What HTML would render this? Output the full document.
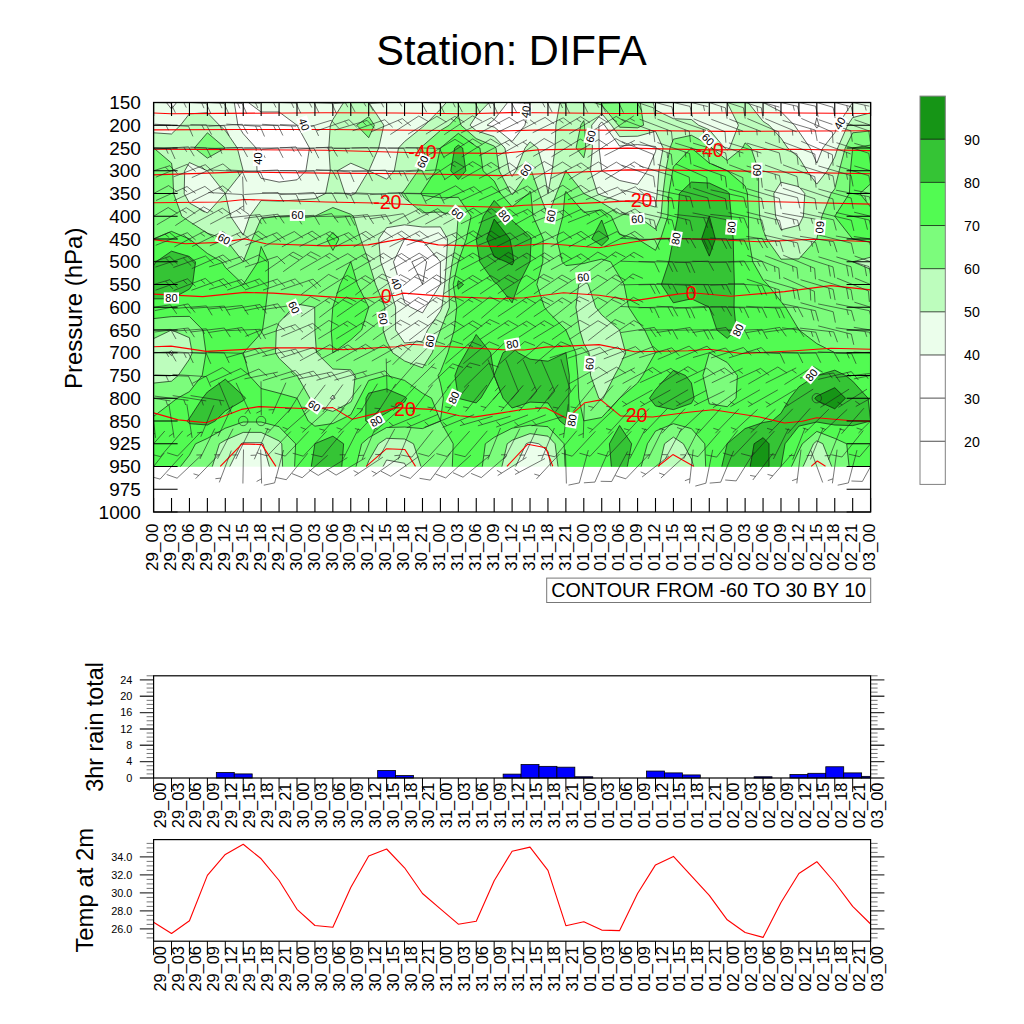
<!DOCTYPE html>
<html><head><meta charset="utf-8"><title>Station: DIFFA</title>
<style>html,body{margin:0;padding:0;background:#fff;}body{width:1024px;height:1024px;overflow:hidden;}svg{display:block;} text{font-family:"Liberation Sans", sans-serif;fill:#000;}</style>
</head><body>
<svg width="1024" height="1024" viewBox="0 0 1024 1024">
<rect x="0" y="0" width="1024" height="1024" fill="#ffffff"/>
<text x="376.2" y="64.9" font-size="42.6" textLength="270.6" lengthAdjust="spacingAndGlyphs">Station: DIFFA</text>
<g id="field">
<clipPath id="fc"><rect x="153.60" y="102.50" width="717.00" height="409.50"/></clipPath>
<g clip-path="url(#fc)">
<rect x="153.60" y="102.50" width="717.00" height="364.00" fill="#fff"/>
<path d="M153.6 102.5L166.4 102.5L171.5 109.0L176.6 102.5L189.4 102.5L207.4 102.5L225.3 102.5L234.3 102.5L237.9 125.2L243.2 133.7L256.1 148.0L257.0 170.8L261.1 178.3L279.1 182.1L297.0 179.8L305.9 170.8L309.5 148.0L297.0 125.3L297.0 125.2L279.1 112.0L261.1 112.0L248.3 102.5L261.1 102.5L279.1 102.5L297.0 102.5L314.9 102.5L332.9 102.5L350.8 102.5L368.7 102.5L386.6 102.5L404.6 102.5L422.5 102.5L440.4 102.5L458.3 102.5L476.2 102.5L494.2 102.5L507.6 102.5L494.2 119.6L487.1 125.2L494.2 127.1L512.1 141.5L524.9 125.2L529.9 102.5L530.0 102.5L548.0 102.5L565.9 102.5L583.8 102.5L601.7 102.5L619.6 102.5L637.6 102.5L655.5 102.5L673.4 102.5L691.4 102.5L709.3 102.5L727.2 102.5L745.1 102.5L763.1 102.5L763.1 102.5L781.0 111.6L794.4 125.2L798.9 131.7L810.1 148.0L816.8 163.1L822.8 148.0L834.8 132.8L837.7 125.2L852.6 102.5L852.7 102.5L870.6 102.5L870.6 125.2L870.6 148.0L870.6 170.8L870.6 193.5L870.6 216.2L870.6 239.0L870.6 261.8L870.6 284.5L870.6 307.2L870.6 330.0L870.6 352.8L870.6 375.5L870.6 398.2L870.6 421.0L870.6 443.8L870.6 466.5L852.7 466.5L834.8 466.5L816.8 466.5L798.9 466.5L781.0 466.5L763.1 466.5L745.1 466.5L727.2 466.5L709.3 466.5L691.4 466.5L673.4 466.5L655.5 466.5L637.6 466.5L619.6 466.5L601.7 466.5L583.8 466.5L565.9 466.5L548.0 466.5L530.0 466.5L512.1 466.5L494.2 466.5L476.2 466.5L458.3 466.5L440.4 466.5L422.5 466.5L404.6 466.5L386.6 466.5L368.7 466.5L350.8 466.5L332.9 466.5L314.9 466.5L297.0 466.5L279.1 466.5L261.1 466.5L243.2 466.5L225.3 466.5L207.4 466.5L189.4 466.5L171.5 466.5L153.6 466.5L153.6 443.8L153.6 421.0L153.6 398.2L153.6 375.5L153.6 352.8L153.6 330.0L153.6 307.2L153.6 284.5L153.6 261.8L153.6 239.0L153.6 216.2L153.6 193.5L153.6 170.8L153.6 148.0L153.6 125.2ZM404.6 239.0L393.5 261.8L400.1 284.5L404.6 302.6L410.6 307.2L422.5 312.9L426.0 307.2L440.4 284.5L440.4 261.8L422.5 240.6ZM601.7 121.9L598.9 125.2L599.1 148.0L601.7 170.7L601.8 170.8L619.6 180.5L637.6 184.4L647.3 170.8L655.5 151.7L656.2 148.0L655.5 146.5L637.6 144.6L619.6 146.1L604.5 125.2Z" fill="#ebfeeb" fill-rule="evenodd" stroke="#ebfeeb" stroke-width="0.4"/>
<path d="M180.5 125.2L189.4 113.8L207.4 112.8L219.4 125.2L225.3 130.5L237.3 148.0L243.2 170.7L243.2 170.8L243.2 170.8L225.3 193.5L230.5 216.2L243.2 235.2L249.6 216.3L261.1 200.5L279.1 201.1L297.0 200.0L314.9 198.7L325.6 193.5L330.3 170.8L328.8 148.0L330.3 125.2L332.9 119.5L343.6 102.5L350.8 102.5L368.7 102.5L368.8 102.5L383.8 125.2L378.7 148.0L368.8 170.8L386.6 179.2L394.3 170.8L398.5 148.0L404.6 141.5L422.5 127.1L424.7 125.2L440.4 109.3L446.3 102.5L458.3 102.5L476.2 102.5L489.1 102.5L476.2 115.9L470.0 125.2L476.2 130.7L494.2 136.6L504.9 148.0L509.1 170.8L512.1 176.4L515.9 170.8L525.1 148.0L530.0 141.8L537.7 148.0L544.1 170.8L548.0 193.4L552.1 170.8L555.1 148.0L555.9 125.2L559.9 102.5L565.9 102.5L583.8 102.5L601.7 102.5L619.6 102.5L637.6 102.5L653.0 102.5L655.5 110.0L673.4 118.7L691.4 119.5L698.6 125.2L709.3 129.8L724.7 148.0L727.2 150.1L729.7 148.0L738.4 125.2L727.2 102.6L727.2 102.5L727.2 102.5L745.1 102.5L748.1 102.5L763.1 121.4L769.1 125.2L781.0 138.2L787.7 148.0L798.9 157.5L807.0 170.8L816.8 184.1L827.3 170.8L834.8 157.1L837.7 148.0L847.7 125.2L852.7 117.6L870.6 112.8L870.6 125.2L870.6 148.0L870.6 170.8L870.6 193.5L870.6 216.2L870.6 239.0L870.6 261.8L870.6 284.5L870.6 307.2L870.6 330.0L870.6 352.8L870.6 375.5L870.6 398.2L870.6 421.0L870.6 443.8L870.6 466.5L852.7 466.5L834.8 466.5L816.8 466.5L798.9 466.5L781.0 466.5L763.1 466.5L745.1 466.5L727.2 466.5L709.3 466.5L691.4 466.5L673.4 466.5L655.5 466.5L637.6 466.5L619.6 466.5L601.7 466.5L583.8 466.5L565.9 466.5L550.8 466.5L548.0 451.4L538.9 443.8L530.0 442.1L526.1 443.8L515.7 466.5L512.1 466.5L494.2 466.5L476.2 466.5L458.3 466.5L440.4 466.5L422.5 466.5L406.0 466.5L404.6 463.3L386.6 460.0L383.1 466.5L368.7 466.5L350.8 466.5L332.9 466.5L314.9 466.5L297.0 466.5L279.1 466.5L269.4 466.5L263.1 443.8L261.1 442.7L243.2 442.7L241.0 443.8L229.8 466.5L225.3 466.5L207.4 466.5L189.4 466.5L171.5 466.5L153.6 466.5L153.6 443.8L153.6 421.0L153.6 398.2L153.6 375.5L153.6 352.8L153.6 330.0L153.6 307.2L153.6 284.5L153.6 261.8L153.6 239.0L153.6 216.2L153.6 193.5L153.6 170.8L153.6 148.0L153.6 132.8L171.5 134.0ZM189.4 162.5L184.7 170.8L184.2 193.5L189.4 203.0L207.4 213.0L225.3 193.5L207.4 170.8L207.3 170.8ZM332.9 395.0L330.3 398.3L332.9 399.4L335.1 398.2ZM350.8 163.2L337.4 170.8L344.9 193.5L350.8 195.4L355.2 193.5L368.6 170.8ZM386.6 227.7L378.7 239.0L380.7 261.8L386.6 278.0L388.9 284.5L395.6 307.2L395.6 330.0L404.6 343.0L422.5 341.3L427.6 330.0L440.4 311.0L441.9 307.2L444.7 284.5L446.4 261.8L447.6 239.0L440.4 226.9L422.5 227.0L404.6 224.8ZM601.7 113.5L591.7 125.2L592.4 148.0L590.5 170.8L597.6 193.5L601.7 195.6L619.6 201.1L637.6 202.0L655.5 207.1L657.2 193.5L658.9 170.7L663.1 148.0L655.5 131.3L637.6 136.2L619.6 136.6L611.4 125.2ZM781.0 182.2L773.8 193.5L775.6 216.2L781.0 229.8L798.9 225.3L803.4 216.2L804.8 193.5L798.9 186.7ZM171.5 350.7L168.6 352.8L171.5 355.6L173.5 352.8ZM314.9 102.5L314.9 102.5L315.0 102.5L314.9 102.5Z" fill="#bdfdbd" fill-rule="evenodd" stroke="#bdfdbd" stroke-width="0.4"/>
<path d="M356.7 125.2L368.7 116.7L374.4 125.2L368.7 137.7ZM449.3 125.2L458.3 115.5L461.0 125.2L476.2 138.6L494.2 146.1L496.0 148.0L499.2 170.8L511.1 193.5L512.1 194.7L513.6 193.5L528.7 170.8L530.0 167.9L531.3 170.8L539.4 193.5L548.0 216.2L556.5 193.5L565.9 170.8L565.9 170.7L565.9 170.8L583.8 193.4L583.8 193.5L601.7 202.7L619.6 213.7L637.6 216.2L637.6 216.2L655.5 229.2L661.0 216.2L663.0 193.5L665.8 170.8L670.0 148.0L673.4 139.2L691.4 135.3L709.3 144.9L711.9 148.0L727.2 160.4L742.5 148.0L745.1 142.9L751.1 148.0L758.6 170.8L758.6 193.5L759.7 216.3L763.1 229.8L766.7 239.0L781.0 259.2L798.9 258.9L816.8 239.0L816.8 238.9L821.9 216.3L831.1 193.5L834.8 188.9L839.2 170.8L845.2 148.0L852.7 132.8L870.6 130.9L870.6 148.0L870.6 170.8L870.6 193.5L870.6 216.2L870.6 239.0L870.6 257.2L852.8 261.8L870.6 269.3L870.6 284.5L870.6 307.2L870.6 330.0L870.6 352.8L870.6 375.5L870.6 398.2L870.6 421.0L870.6 443.8L870.6 466.5L852.7 466.5L834.8 466.5L831.7 466.5L822.8 443.7L816.8 440.9L813.5 443.8L803.1 466.5L798.9 466.5L781.0 466.5L763.1 466.5L745.1 466.5L727.2 466.5L709.3 466.5L693.7 466.5L691.4 459.0L683.4 443.8L673.4 437.1L664.5 443.8L659.1 466.5L655.5 466.5L637.6 466.5L619.6 466.5L601.7 466.5L583.8 466.5L565.9 466.5L558.0 466.5L555.1 443.8L548.0 436.2L530.0 433.6L512.1 440.2L507.2 443.8L501.9 466.5L494.2 466.5L476.2 466.5L458.3 466.5L440.4 466.5L422.5 466.5L421.0 466.5L413.5 443.8L404.5 439.0L386.6 438.3L378.5 443.8L368.7 460.8L366.6 466.5L350.8 466.5L332.9 466.5L314.9 466.5L297.0 466.5L282.6 466.5L281.8 443.8L279.1 440.9L261.1 432.4L243.2 432.4L225.3 440.2L219.4 443.7L212.3 466.5L207.4 466.5L189.4 466.5L171.5 466.5L153.6 466.5L153.6 443.8L153.6 421.0L153.6 398.2L153.6 383.1L171.5 381.2L178.2 375.5L189.4 359.2L192.2 352.8L189.4 337.7L171.5 330.0L153.6 338.6L153.6 330.0L153.6 307.2L153.6 284.5L153.6 261.8L153.6 239.0L153.6 216.2L153.6 193.5L153.6 170.8L153.6 148.0L153.6 148.0L153.7 148.0L171.5 163.1L172.7 170.8L173.6 193.5L181.8 216.2L189.4 221.5L207.4 233.3L225.3 239.0L225.3 239.0L243.2 261.7L252.2 239.0L261.1 218.5L278.8 216.2L279.1 216.2L297.0 216.2L314.9 216.2L332.9 207.5L350.8 214.3L353.4 216.2L360.6 239.0L368.7 261.7L368.7 261.8L375.6 284.5L385.0 307.2L383.1 330.0L386.6 341.3L392.6 352.8L404.6 361.0L422.5 367.9L432.2 352.8L440.4 330.0L440.4 330.0L449.4 307.2L448.9 284.5L452.3 261.8L456.5 239.0L458.2 216.2L440.4 212.0L422.5 212.8L404.6 198.1L401.5 193.5L404.6 190.2L418.0 170.8L420.5 148.0L422.5 146.1L440.4 130.5ZM583.8 281.0L578.7 284.5L575.9 307.2L579.7 330.0L583.8 343.6L589.0 352.8L590.6 375.5L598.8 398.2L601.7 400.0L603.3 398.2L614.5 375.5L619.6 366.3L625.6 352.8L619.6 330.1L619.6 330.0L601.7 314.9L595.7 307.2L588.3 284.5ZM297.0 304.0L293.5 307.2L279.1 322.5L276.3 330.0L275.5 352.8L279.1 358.4L297.0 375.4L297.1 375.5L309.8 398.2L314.9 406.5L332.9 411.4L350.8 402.0L352.8 398.2L355.2 375.5L350.8 369.8L332.9 369.0L316.5 352.8L314.9 330.3L314.9 330.0L314.7 307.2ZM476.2 102.5L476.2 102.5L476.3 102.5L476.2 102.5ZM580.8 125.2L583.8 120.6L584.5 125.2L585.8 148.0L583.8 157.8L576.1 148.0ZM594.0 102.5L601.7 102.5L619.6 102.5L637.6 102.5L640.2 102.5L643.6 125.2L637.6 127.8L619.6 127.2L618.3 125.2L601.7 105.0ZM194.3 148.0L207.4 132.8L225.3 148.0L225.3 148.0L225.3 148.0L207.4 158.1Z" fill="#7cfc7c" fill-rule="evenodd" stroke="#7cfc7c" stroke-width="0.4"/>
<path d="M440.4 148.0L440.4 148.0L458.3 133.4L476.2 146.4L479.9 148.0L483.0 170.8L494.2 181.1L500.5 193.5L512.1 206.7L528.5 193.5L530.0 191.2L530.9 193.5L533.0 216.2L543.2 239.0L542.8 261.8L536.8 284.5L544.4 307.2L548.0 311.7L565.9 329.9L565.9 330.0L575.8 352.8L577.8 375.5L578.8 398.2L583.8 420.9L601.7 417.5L619.6 398.2L619.6 398.2L637.6 383.0L642.7 375.5L655.4 352.8L644.7 330.0L637.6 321.0L628.6 307.2L624.1 284.5L619.7 277.0L610.6 261.8L601.7 259.1L589.9 261.8L583.8 263.5L565.9 265.6L562.2 261.8L556.9 239.0L562.9 216.2L565.0 193.5L565.9 191.4L567.5 193.5L583.8 212.4L601.7 209.8L611.2 216.2L619.6 234.4L637.6 239.0L637.6 239.0L655.5 250.3L660.6 239.0L667.9 216.2L668.8 193.5L672.7 170.8L673.4 166.9L691.3 148.0L691.4 148.0L691.4 148.0L709.3 163.1L727.2 170.7L727.3 170.8L745.1 185.9L747.4 193.5L748.5 216.2L748.7 239.0L752.8 261.8L763.1 279.9L767.6 284.5L781.0 301.5L785.5 307.2L798.9 329.9L799.0 330.0L816.8 343.6L834.8 352.7L852.7 352.7L870.6 352.7L870.6 352.8L870.6 375.5L870.6 398.2L870.6 421.0L870.6 443.8L870.6 466.5L852.7 466.5L849.1 466.5L846.7 443.8L834.8 438.4L816.8 431.4L802.3 443.8L798.9 450.6L791.5 466.5L781.0 466.5L763.1 466.5L745.1 466.5L727.2 466.5L709.3 466.5L705.7 466.5L704.8 443.8L691.4 428.6L673.4 423.7L655.5 431.1L647.4 443.8L641.2 466.5L637.6 466.5L619.6 466.5L601.7 466.5L583.8 466.5L565.9 466.5L565.1 466.5L564.1 443.8L548.0 426.7L530.0 425.2L512.1 428.2L494.2 437.3L485.3 443.8L482.3 466.5L476.2 466.5L458.3 466.5L452.3 466.5L453.2 443.8L440.4 421.1L422.5 428.6L404.6 427.0L386.6 427.5L368.7 437.7L361.6 443.8L356.1 466.5L350.8 466.5L332.9 466.5L314.9 466.5L297.0 466.5L294.6 466.5L295.6 443.8L279.1 426.7L261.1 422.0L243.2 422.0L225.3 428.2L207.4 438.4L195.5 443.8L189.4 455.2L180.5 466.5L171.5 466.5L153.6 466.5L153.6 443.8L153.6 421.0L153.6 416.4L171.5 402.7L177.4 398.2L189.4 391.7L202.2 375.5L206.0 352.8L202.9 330.0L189.4 316.4L171.5 316.6L153.6 318.6L153.6 307.2L153.6 284.5L153.6 261.8L153.6 239.0L153.6 238.9L171.5 231.4L189.4 239.0L189.5 239.0L207.4 253.5L221.8 261.8L225.3 267.4L243.2 284.5L258.1 261.8L261.1 246.5L268.4 261.8L268.4 284.5L265.7 307.2L262.5 330.0L261.1 333.3L243.3 352.8L249.2 375.5L261.1 388.5L279.1 393.2L297.0 398.2L297.0 398.2L308.2 421.0L314.9 426.2L332.9 423.5L337.9 421.0L350.8 414.7L359.4 398.2L368.7 380.5L386.6 375.5L386.6 375.5L386.7 375.5L404.6 380.4L422.5 393.2L431.5 398.2L440.4 420.9L443.4 398.2L440.4 383.2L438.1 375.5L440.4 371.7L447.8 352.8L454.2 330.0L456.8 307.2L453.2 284.5L458.3 261.8L458.3 261.7L466.3 239.0L471.1 216.2L458.3 197.3L440.4 197.8L422.5 195.3L420.7 193.5L422.5 190.9L435.5 170.8ZM709.3 352.8L702.9 375.5L707.9 398.2L709.3 403.9L727.2 406.7L736.1 398.2L737.4 375.5L727.2 362.5ZM852.7 148.0L852.7 148.0L870.6 145.1L870.6 148.0L870.6 170.8L870.6 183.8L859.9 193.5L870.6 207.1L870.6 216.2L870.6 239.0L870.6 242.1L852.7 239.0L852.6 239.0L834.8 216.4L834.7 216.2L834.8 216.2L849.4 193.5L850.4 170.8ZM326.8 239.0L332.9 232.5L338.9 239.0L332.9 250.4ZM350.7 261.8L350.8 261.7L350.8 261.8L357.5 284.5L368.7 307.2L368.7 307.2L368.7 307.4L361.6 330.0L350.8 339.8L332.9 352.8L332.9 352.8L332.8 352.8L331.2 330.0L332.8 307.2L332.9 307.1L340.0 284.5Z" fill="#52fb52" fill-rule="evenodd" stroke="#52fb52" stroke-width="0.4"/>
<path d="M454.7 148.0L458.3 145.1L462.6 148.0L465.8 170.8L458.3 179.5L450.8 170.8ZM679.4 193.5L691.4 182.1L709.3 183.1L727.2 191.4L729.2 193.5L731.2 216.2L733.2 239.0L733.7 261.8L734.4 284.5L734.0 307.2L736.2 330.0L727.2 338.3L716.9 330.0L709.3 307.3L709.2 307.2L691.4 298.8L673.4 302.8L661.4 284.5L668.9 261.8L673.4 239.0L673.4 238.9L677.9 216.2ZM483.4 216.2L494.2 200.5L508.9 216.2L512.1 220.4L530.0 236.4L531.2 239.0L530.0 261.8L530.0 261.8L518.6 284.5L512.1 302.8L497.7 284.5L494.2 282.0L479.8 261.8L476.2 239.1L476.2 239.0L476.2 239.0ZM591.7 239.0L601.7 220.0L608.6 239.0L601.7 245.7ZM156.1 261.8L171.5 251.2L189.4 256.5L195.5 261.8L192.5 284.5L189.4 289.1L171.5 298.8L153.6 298.8L153.6 284.5L153.6 265.5ZM457.5 284.5L458.3 280.7L463.5 284.5L458.3 289.1ZM466.0 352.8L476.2 334.5L490.6 352.8L494.2 375.2L503.0 352.8L512.1 347.0L518.2 352.8L530.0 359.2L548.0 361.2L565.8 352.8L565.9 352.7L565.9 352.8L569.3 375.5L568.9 398.2L568.9 421.0L565.9 425.6L559.9 421.0L548.0 402.9L530.0 402.1L512.1 408.0L503.1 398.2L494.2 375.6L480.8 398.2L476.2 402.9L458.3 398.3L458.3 398.2L455.0 375.5L458.3 366.3ZM668.3 375.5L673.4 370.4L685.5 375.5L691.4 383.0L694.1 398.2L691.4 403.3L673.4 409.6L655.5 405.9L649.5 398.2L655.5 389.7ZM816.7 375.5L816.8 375.5L834.8 370.2L845.6 375.5L852.7 381.2L868.1 398.3L870.6 420.7L870.6 421.0L870.6 421.0L852.7 425.6L834.8 425.0L816.8 422.0L798.9 426.1L785.0 443.8L781.0 466.5L781.0 466.5L763.1 466.5L745.1 466.5L727.2 466.5L721.8 466.5L727.2 443.8L727.2 443.7L745.1 428.6L763.1 422.5L771.9 421.0L781.0 413.3L789.9 398.2L798.9 386.8ZM202.5 398.2L207.4 392.0L225.3 379.2L243.2 395.7L245.5 398.2L243.2 400.6L225.3 410.9L215.1 421.0L207.4 425.0L189.4 423.6L186.9 421.0L189.4 418.4ZM366.0 398.2L368.7 393.2L386.6 388.9L404.6 396.6L406.6 398.2L404.5 402.1L386.6 412.8L372.3 421.0L368.7 422.5L365.7 421.0ZM314.9 443.8L314.9 443.7L332.9 436.2L343.6 443.8L341.8 466.5L332.9 466.5L314.9 466.5L311.3 466.5ZM609.4 443.8L619.6 425.5L631.6 443.8L627.3 466.5L619.6 466.5L611.4 466.5Z" fill="#35c435" fill-rule="evenodd" stroke="#35c435" stroke-width="0.4"/>
<path d="M709.2 216.2L709.3 216.2L709.3 216.2L715.3 239.0L709.3 256.1L701.6 239.0ZM486.8 239.0L494.2 219.1L509.9 239.0L512.1 250.2L513.8 261.8L512.1 265.0L506.0 261.8L494.2 256.7ZM814.8 398.2L816.8 396.2L834.8 387.7L845.5 398.2L834.8 408.8L816.8 400.6ZM754.1 443.8L763.1 437.7L769.0 443.8L769.0 466.5L763.1 466.5L750.2 466.5Z" fill="#169516" fill-rule="evenodd" stroke="#169516" stroke-width="0.4"/>
<path d="M816.8 117.8L814.9 125.2L816.8 128.1L819.0 125.2L816.8 117.8M422.5 256.9L411.8 261.8L422.5 284.4L426.6 261.8L422.5 256.9M166.4 102.5L171.5 109.0L176.6 102.5M234.3 102.5L237.9 125.2L243.2 133.7L256.1 148.0L257.0 170.8L261.1 178.3L279.1 182.1L297.0 179.8L305.9 170.8L309.5 148.0L297.0 125.3L297.0 125.2L279.1 112.0L261.1 112.0L248.3 102.5M507.6 102.5L494.2 119.6L487.1 125.2L494.2 127.1L512.1 141.5L524.9 125.2L529.9 102.5M601.7 121.9L598.9 125.2L599.1 148.0L601.7 170.7L601.8 170.8L619.6 180.5L637.6 184.4L647.3 170.8L655.5 151.7L656.2 148.0L655.5 146.5L637.6 144.6L619.6 146.1L604.5 125.2L601.7 121.9M763.1 102.5L781.0 111.6L794.4 125.2L798.9 131.7L810.1 148.0L816.8 163.1L822.8 148.0L834.8 132.8L837.7 125.2L852.6 102.5M404.6 239.0L393.5 261.8L400.1 284.5L404.6 302.6L410.6 307.2L422.5 312.9L426.0 307.2L440.4 284.5L440.4 261.8L422.5 240.6L404.6 239.0M315.0 102.5L314.9 102.5L314.9 102.5M368.8 102.5L383.8 125.2L378.7 148.0L368.8 170.8L386.6 179.2L394.3 170.8L398.5 148.0L404.6 141.5L422.5 127.1L424.7 125.2L440.4 109.3L446.3 102.5M489.1 102.5L476.2 115.9L470.0 125.2L476.2 130.7L494.2 136.6L504.9 148.0L509.1 170.8L512.1 176.4L515.9 170.8L525.1 148.0L530.0 141.8L537.7 148.0L544.1 170.8L548.0 193.4L552.1 170.8L555.1 148.0L555.9 125.2L559.9 102.5M601.7 113.5L591.7 125.2L592.4 148.0L590.5 170.8L597.6 193.5L601.7 195.6L619.6 201.1L637.6 202.0L655.5 207.1L657.2 193.5L658.9 170.7L663.1 148.0L655.5 131.3L637.6 136.2L619.6 136.6L611.4 125.2L601.7 113.5M653.0 102.5L655.5 110.0L673.4 118.7L691.4 119.5L698.6 125.2L709.3 129.8L724.7 148.0L727.2 150.1L729.7 148.0L738.4 125.2L727.2 102.6L727.2 102.5M748.1 102.5L763.1 121.4L769.1 125.2L781.0 138.2L787.7 148.0L798.9 157.5L807.0 170.8L816.8 184.1L827.3 170.8L834.8 157.1L837.7 148.0L847.7 125.2L852.7 117.6L870.6 112.8M153.6 132.8L171.5 134.0L180.5 125.2L189.4 113.8L207.4 112.8L219.4 125.2L225.3 130.5L237.3 148.0L243.2 170.7L243.2 170.8L243.2 170.8L225.3 193.5L230.5 216.2L243.2 235.2L249.6 216.3L261.1 200.5L279.1 201.1L297.0 200.0L314.9 198.7L325.6 193.5L330.3 170.8L328.8 148.0L330.3 125.2L332.9 119.5L343.6 102.5M189.4 162.5L184.7 170.8L184.2 193.5L189.4 203.0L207.4 213.0L225.3 193.5L207.4 170.8L207.3 170.8L189.4 162.5M350.8 163.2L337.4 170.8L344.9 193.5L350.8 195.4L355.2 193.5L368.6 170.8L350.8 163.2M781.0 182.2L773.8 193.5L775.6 216.2L781.0 229.8L798.9 225.3L803.4 216.2L804.8 193.5L798.9 186.7L781.0 182.2M386.6 227.7L378.7 239.0L380.7 261.8L386.6 278.0L388.9 284.5L395.6 307.2L395.6 330.0L404.6 343.0L422.5 341.3L427.6 330.0L440.4 311.0L441.9 307.2L444.7 284.5L446.4 261.8L447.6 239.0L440.4 226.9L422.5 227.0L404.6 224.8L386.6 227.7M171.5 350.7L168.6 352.8L171.5 355.6L173.5 352.8L171.5 350.7M332.9 395.0L330.3 398.3L332.9 399.4L335.1 398.2L332.9 395.0M269.4 466.5L263.1 443.8L261.1 442.7L243.2 442.7L241.0 443.8L229.8 466.5M406.0 466.5L404.6 463.3L386.6 460.0L383.1 466.5M550.8 466.5L548.0 451.4L538.9 443.8L530.0 442.1L526.1 443.8L515.7 466.5M356.7 125.2L368.7 116.7L374.4 125.2L368.7 137.7L356.7 125.2M476.3 102.5L476.2 102.5L476.2 102.5M580.8 125.2L583.8 120.6L584.5 125.2L585.8 148.0L583.8 157.8L576.1 148.0L580.8 125.2M640.2 102.5L643.6 125.2L637.6 127.8L619.6 127.2L618.3 125.2L601.7 105.0L594.0 102.5M153.6 148.0L153.7 148.0L171.5 163.1L172.7 170.8L173.6 193.5L181.8 216.2L189.4 221.5L207.4 233.3L225.3 239.0L225.3 239.0L243.2 261.7L252.2 239.0L261.1 218.5L278.8 216.2L279.1 216.2L297.0 216.2L314.9 216.2L332.9 207.5L350.8 214.3L353.4 216.2L360.6 239.0L368.7 261.7L368.7 261.8L375.6 284.5L385.0 307.2L383.1 330.0L386.6 341.3L392.6 352.8L404.6 361.0L422.5 367.9L432.2 352.8L440.4 330.0L440.4 330.0L449.4 307.2L448.9 284.5L452.3 261.8L456.5 239.0L458.2 216.2L440.4 212.0L422.5 212.8L404.6 198.1L401.5 193.5L404.6 190.2L418.0 170.8L420.5 148.0L422.5 146.1L440.4 130.5L449.3 125.2L458.3 115.5L461.0 125.2L476.2 138.6L494.2 146.1L496.0 148.0L499.2 170.8L511.1 193.5L512.1 194.7L513.6 193.5L528.7 170.8L530.0 167.9L531.3 170.8L539.4 193.5L548.0 216.2L556.5 193.5L565.9 170.8L565.9 170.7L565.9 170.8L583.8 193.4L583.8 193.5L601.7 202.7L619.6 213.7L637.6 216.2L637.6 216.2L655.5 229.2L661.0 216.2L663.0 193.5L665.8 170.8L670.0 148.0L673.4 139.2L691.4 135.3L709.3 144.9L711.9 148.0L727.2 160.4L742.5 148.0L745.1 142.9L751.1 148.0L758.6 170.8L758.6 193.5L759.7 216.3L763.1 229.8L766.7 239.0L781.0 259.2L798.9 258.9L816.8 239.0L816.8 238.9L821.9 216.3L831.1 193.5L834.8 188.9L839.2 170.8L845.2 148.0L852.7 132.8L870.6 130.9M194.3 148.0L207.4 132.8L225.3 148.0L225.3 148.0L225.3 148.0L207.4 158.1L194.3 148.0M870.6 257.2L852.8 261.8L870.6 269.3M583.8 281.0L578.7 284.5L575.9 307.2L579.7 330.0L583.8 343.6L589.0 352.8L590.6 375.5L598.8 398.2L601.7 400.0L603.3 398.2L614.5 375.5L619.6 366.3L625.6 352.8L619.6 330.1L619.6 330.0L601.7 314.9L595.7 307.2L588.3 284.5L583.8 281.0M297.0 304.0L293.5 307.2L279.1 322.5L276.3 330.0L275.5 352.8L279.1 358.4L297.0 375.4L297.1 375.5L309.8 398.2L314.9 406.5L332.9 411.4L350.8 402.0L352.8 398.2L355.2 375.5L350.8 369.8L332.9 369.0L316.5 352.8L314.9 330.3L314.9 330.0L314.7 307.2L297.0 304.0M153.6 383.1L171.5 381.2L178.2 375.5L189.4 359.2L192.2 352.8L189.4 337.7L171.5 330.0L153.6 338.6M282.6 466.5L281.8 443.8L279.1 440.9L261.1 432.4L243.2 432.4L225.3 440.2L219.4 443.7L212.3 466.5M421.0 466.5L413.5 443.8L404.5 439.0L386.6 438.3L378.5 443.8L368.7 460.8L366.6 466.5M558.0 466.5L555.1 443.8L548.0 436.2L530.0 433.6L512.1 440.2L507.2 443.8L501.9 466.5M693.7 466.5L691.4 459.0L683.4 443.8L673.4 437.1L664.5 443.8L659.1 466.5M831.7 466.5L822.8 443.7L816.8 440.9L813.5 443.8L803.1 466.5M870.6 183.8L859.9 193.5L870.6 207.1M153.6 238.9L171.5 231.4L189.4 239.0L189.5 239.0L207.4 253.5L221.8 261.8L225.3 267.4L243.2 284.5L258.1 261.8L261.1 246.5L268.4 261.8L268.4 284.5L265.7 307.2L262.5 330.0L261.1 333.3L243.3 352.8L249.2 375.5L261.1 388.5L279.1 393.2L297.0 398.2L297.0 398.2L308.2 421.0L314.9 426.2L332.9 423.5L337.9 421.0L350.8 414.7L359.4 398.2L368.7 380.5L386.6 375.5L386.6 375.5L386.7 375.5L404.6 380.4L422.5 393.2L431.5 398.2L440.4 420.9L443.4 398.2L440.4 383.2L438.1 375.5L440.4 371.7L447.8 352.8L454.2 330.0L456.8 307.2L453.2 284.5L458.3 261.8L458.3 261.7L466.3 239.0L471.1 216.2L458.3 197.3L440.4 197.8L422.5 195.3L420.7 193.5L422.5 190.9L435.5 170.8L440.4 148.0L440.4 148.0L458.3 133.4L476.2 146.4L479.9 148.0L483.0 170.8L494.2 181.1L500.5 193.5L512.1 206.7L528.5 193.5L530.0 191.2L530.9 193.5L533.0 216.2L543.2 239.0L542.8 261.8L536.8 284.5L544.4 307.2L548.0 311.7L565.9 329.9L565.9 330.0L575.8 352.8L577.8 375.5L578.8 398.2L583.8 420.9L601.7 417.5L619.6 398.2L619.6 398.2L637.6 383.0L642.7 375.5L655.4 352.8L644.7 330.0L637.6 321.0L628.6 307.2L624.1 284.5L619.7 277.0L610.6 261.8L601.7 259.1L589.9 261.8L583.8 263.5L565.9 265.6L562.2 261.8L556.9 239.0L562.9 216.2L565.0 193.5L565.9 191.4L567.5 193.5L583.8 212.4L601.7 209.8L611.2 216.2L619.6 234.4L637.6 239.0L637.6 239.0L655.5 250.3L660.6 239.0L667.9 216.2L668.8 193.5L672.7 170.8L673.4 166.9L691.3 148.0L691.4 148.0L691.4 148.0L709.3 163.1L727.2 170.7L727.3 170.8L745.1 185.9L747.4 193.5L748.5 216.2L748.7 239.0L752.8 261.8L763.1 279.9L767.6 284.5L781.0 301.5L785.5 307.2L798.9 329.9L799.0 330.0L816.8 343.6L834.8 352.7L852.7 352.7L870.6 352.7M326.8 239.0L332.9 232.5L338.9 239.0L332.9 250.4L326.8 239.0M350.7 261.8L350.8 261.7L350.8 261.8L357.5 284.5L368.7 307.2L368.7 307.2L368.7 307.4L361.6 330.0L350.8 339.8L332.9 352.8L332.9 352.8L332.8 352.8L331.2 330.0L332.8 307.2L332.9 307.1L340.0 284.5L350.7 261.8M870.6 242.1L852.7 239.0L852.6 239.0L834.8 216.4L834.7 216.2L834.8 216.2L849.4 193.5L850.4 170.8L852.7 148.0L852.7 148.0L870.6 145.1M709.3 352.8L702.9 375.5L707.9 398.2L709.3 403.9L727.2 406.7L736.1 398.2L737.4 375.5L727.2 362.5L709.3 352.8M153.6 416.4L171.5 402.7L177.4 398.2L189.4 391.7L202.2 375.5L206.0 352.8L202.9 330.0L189.4 316.4L171.5 316.6L153.6 318.6M294.6 466.5L295.6 443.8L279.1 426.7L261.1 422.0L243.2 422.0L225.3 428.2L207.4 438.4L195.5 443.8L189.4 455.2L180.5 466.5M452.3 466.5L453.2 443.8L440.4 421.1L422.5 428.6L404.6 427.0L386.6 427.5L368.7 437.7L361.6 443.8L356.1 466.5M565.1 466.5L564.1 443.8L548.0 426.7L530.0 425.2L512.1 428.2L494.2 437.3L485.3 443.8L482.3 466.5M705.7 466.5L704.8 443.8L691.4 428.6L673.4 423.7L655.5 431.1L647.4 443.8L641.2 466.5M849.1 466.5L846.7 443.8L834.8 438.4L816.8 431.4L802.3 443.8L798.9 450.6L791.5 466.5M454.7 148.0L458.3 145.1L462.6 148.0L465.8 170.8L458.3 179.5L450.8 170.8L454.7 148.0M679.4 193.5L691.4 182.1L709.3 183.1L727.2 191.4L729.2 193.5L731.2 216.2L733.2 239.0L733.7 261.8L734.4 284.5L734.0 307.2L736.2 330.0L727.2 338.3L716.9 330.0L709.3 307.3L709.2 307.2L691.4 298.8L673.4 302.8L661.4 284.5L668.9 261.8L673.4 239.0L673.4 238.9L677.9 216.2L679.4 193.5M483.4 216.2L494.2 200.5L508.9 216.2L512.1 220.4L530.0 236.4L531.2 239.0L530.0 261.8L530.0 261.8L518.6 284.5L512.1 302.8L497.7 284.5L494.2 282.0L479.8 261.8L476.2 239.1L476.2 239.0L476.2 239.0L483.4 216.2M591.7 239.0L601.7 220.0L608.6 239.0L601.7 245.7L591.7 239.0M153.6 265.5L156.1 261.8L171.5 251.2L189.4 256.5L195.5 261.8L192.5 284.5L189.4 289.1L171.5 298.8L153.6 298.8M457.5 284.5L458.3 280.7L463.5 284.5L458.3 289.1L457.5 284.5M466.0 352.8L476.2 334.5L490.6 352.8L494.2 375.2L503.0 352.8L512.1 347.0L518.2 352.8L530.0 359.2L548.0 361.2L565.8 352.8L565.9 352.7L565.9 352.8L569.3 375.5L568.9 398.2L568.9 421.0L565.9 425.6L559.9 421.0L548.0 402.9L530.0 402.1L512.1 408.0L503.1 398.2L494.2 375.6L480.8 398.2L476.2 402.9L458.3 398.3L458.3 398.2L455.0 375.5L458.3 366.3L466.0 352.8M668.3 375.5L673.4 370.4L685.5 375.5L691.4 383.0L694.1 398.2L691.4 403.3L673.4 409.6L655.5 405.9L649.5 398.2L655.5 389.7L668.3 375.5M202.5 398.2L207.4 392.0L225.3 379.2L243.2 395.7L245.5 398.2L243.2 400.6L225.3 410.9L215.1 421.0L207.4 425.0L189.4 423.6L186.9 421.0L189.4 418.4L202.5 398.2M366.0 398.2L368.7 393.2L386.6 388.9L404.6 396.6L406.6 398.2L404.5 402.1L386.6 412.8L372.3 421.0L368.7 422.5L365.7 421.0L366.0 398.2M870.6 421.0L852.7 425.6L834.8 425.0L816.8 422.0L798.9 426.1L785.0 443.8L781.0 466.5M311.3 466.5L314.9 443.8L314.9 443.7L332.9 436.2L343.6 443.8L341.8 466.5M611.4 466.5L609.4 443.8L619.6 425.5L631.6 443.8L627.3 466.5M721.8 466.5L727.2 443.8L727.2 443.7L745.1 428.6L763.1 422.5L771.9 421.0L781.0 413.3L789.9 398.2L798.9 386.8L816.7 375.5L816.8 375.5L834.8 370.2L845.6 375.5L852.7 381.2L868.1 398.3L870.6 420.7M709.2 216.2L709.3 216.2L709.3 216.2L715.3 239.0L709.3 256.1L701.6 239.0L709.2 216.2M486.8 239.0L494.2 219.1L509.9 239.0L512.1 250.2L513.8 261.8L512.1 265.0L506.0 261.8L494.2 256.7L486.8 239.0M814.8 398.2L816.8 396.2L834.8 387.7L845.5 398.2L834.8 408.8L816.8 400.6L814.8 398.2M750.2 466.5L754.1 443.8L763.1 437.7L769.0 443.8L769.0 466.5" fill="none" stroke="#111" stroke-width="0.65" stroke-linejoin="round"/>
</g>
<path d="M153.6 113.0L171.1 113.7L220.3 113.4L325.8 112.7L396.1 113.0L466.5 113.7L513.6 112.5L617.0 113.5L759.6 112.8L870.6 113.5M153.6 129.9L237.9 129.5L325.8 129.5L413.7 130.2L501.6 130.9L545.7 129.9L617.0 130.3L723.9 131.4L870.6 130.7M153.6 149.2L237.9 149.6L325.8 150.3L417.2 152.7L501.6 153.4L538.5 149.9L627.6 148.1L709.6 149.9L795.2 149.2L870.6 150.6M153.6 174.9L237.9 172.1L325.8 173.1L417.2 173.8L501.6 175.6L531.4 174.2L627.6 169.9L723.9 170.6L795.2 172.4L870.6 173.8M153.6 202.7L220.3 202.0L244.9 199.5L325.8 202.0L375.0 203.0L431.3 205.5L501.6 207.2L524.3 205.2L581.3 203.4L631.2 200.9L723.9 200.5L795.2 202.3L870.6 204.1M153.6 239.6L185.2 243.8L220.3 242.4L244.9 238.9L266.0 243.8L325.8 245.9L368.0 244.9L403.2 238.6L438.3 244.9L501.6 246.6L524.3 245.3L545.7 243.5L599.1 247.8L634.8 241.7L659.7 238.2L706.1 239.2L759.6 241.7L813.0 239.2L870.6 241.7M153.6 294.1L202.7 296.6L244.9 292.4L273.1 293.1L325.8 296.6L361.0 298.7L396.1 295.2L403.2 293.1L448.9 296.6L501.6 298.7L524.3 297.7L563.5 292.7L599.1 295.2L634.8 300.6L677.6 294.1L691.8 292.7L731.0 296.3L784.5 291.6L830.9 285.6L870.6 289.9M153.6 346.8L171.1 346.1L206.3 351.4L241.4 349.6L266.0 347.9L308.2 347.9L343.4 349.6L396.1 346.8L410.2 344.3L448.9 346.8L501.6 349.6L524.3 350.0L545.7 347.1L599.1 344.6L634.8 351.7L688.3 350.7L709.6 349.2L741.7 353.5L795.2 350.7L830.9 348.2L870.6 349.2M153.6 412.9L178.1 419.9L206.3 422.7L241.4 409.4L259.0 406.6L308.2 408.7L332.8 407.6L352.2 419.2L378.6 412.9L396.1 407.6L431.3 409.4L459.4 415.7L473.5 417.1L501.6 412.9L520.7 409.8L545.7 407.7L567.0 418.4L584.9 402.7L600.9 399.9L620.5 415.9L652.6 417.0L688.3 412.3L713.2 409.8L759.6 417.0L784.5 423.0L802.3 421.3L816.6 417.7L848.7 420.5L870.6 421.3M220.3 466.4L242.1 443.9L261.8 444.6L275.9 466.4M366.2 466.4L386.3 448.8L404.9 449.5L415.5 466.4M506.9 466.4L527.8 444.2L545.7 447.8L552.8 466.3M658.0 466.3L672.9 454.6L693.6 466.3M811.2 466.3L817.3 461.0L825.5 466.3" fill="none" stroke="#ff0000" stroke-width="1.1" stroke-linejoin="round"/>
<clipPath id="bc"><rect x="153.60" y="102.50" width="717.00" height="409.50"/></clipPath>
<g clip-path="url(#bc)" fill="none" stroke="#1c1c1c" stroke-width="0.6">
<path d="M136.6 102.1L170.6 102.9M170.6 102.9l4.8 9.9M154.5 102.3L188.5 102.7M183.9 102.7l2.4 4.9M172.5 101.5L206.4 103.5M206.4 103.5l4.4 10.1M201.8 103.2l2.2 5.0M190.4 101.5L224.3 103.5M224.3 103.5l4.4 10.1M219.8 103.2l2.2 5.0M208.3 101.5L242.3 103.5M242.3 103.5l4.4 10.1M237.7 103.3l2.2 5.0M226.2 101.8L260.2 103.2M255.6 103.0l2.3 5.0M244.2 102.3L278.1 102.7M273.5 102.6l2.5 4.9M262.1 101.9L296.1 103.1M296.1 103.1l4.6 10.0M291.5 102.9l2.3 5.0M280.0 102.3L314.0 102.7M314.0 102.7l4.9 9.9M309.4 102.6l2.4 4.9M297.9 101.6L331.9 103.4M331.9 103.4l4.5 10.0M315.9 102.8L349.8 102.2M349.8 102.2l5.2 9.7M345.2 102.3l2.6 4.9M333.8 103.6L367.7 101.4M367.7 101.4l5.6 9.5M363.2 101.7l2.8 4.7M351.7 102.7L385.7 102.3M381.1 102.4l2.6 4.9M369.7 103.6L403.6 101.4M399.0 101.7l2.8 4.7M387.6 102.6L421.5 102.4M421.5 102.4l5.1 9.8M405.5 102.0L439.5 103.0M439.5 103.0l4.7 9.9M423.4 102.6L457.4 102.4M457.4 102.4l5.0 9.8M452.8 102.4l2.5 4.9M441.3 102.0L475.3 103.0M475.3 103.0l4.7 9.9M459.3 101.6L493.2 103.4M493.2 103.4l4.4 10.1M488.6 103.2l2.2 5.0M477.2 102.8L511.2 102.2M511.2 102.2l5.2 9.7M495.1 101.5L529.1 103.5M524.5 103.2l2.2 5.0M513.0 102.7L547.0 102.3M547.0 102.3l5.1 9.8M542.4 102.4l2.5 4.9M531.0 101.8L564.9 103.2M564.9 103.2l4.6 10.0M560.3 103.0l2.3 5.0M548.9 102.3L582.9 102.7M582.9 102.7l4.9 9.9M566.8 102.4L600.8 102.6M600.8 102.6l4.9 9.8M596.2 102.6l2.5 4.9M584.7 102.2L618.7 102.8M618.7 102.8l4.8 9.9M602.7 103.2L636.6 101.8M636.6 101.8l5.4 9.6M621.4 97.1L653.7 107.9M653.7 107.9l1.7 10.9M639.1 98.2L671.9 106.8M671.9 106.8l2.3 10.8M656.9 98.6L690.0 106.4M690.0 106.4l2.6 10.7M674.9 98.4L707.8 106.6M703.4 105.5l1.2 5.4M693.1 97.2L725.4 107.8M725.4 107.8l1.7 10.9M721.1 106.3l0.9 5.4M711.0 97.3L743.4 107.7M743.4 107.7l1.8 10.9M728.9 97.3L761.3 107.7M761.3 107.7l1.8 10.9M756.9 106.3l0.9 5.4M746.7 97.9L779.4 107.1M775.0 105.8l1.1 5.4M764.4 98.7L797.5 106.3M797.5 106.3l2.7 10.7M793.1 105.3l1.3 5.3M782.3 98.8L815.5 106.2M815.5 106.2l2.7 10.7M800.5 97.7L833.1 107.3M833.1 107.3l2.0 10.8M818.3 98.3L851.2 106.7M851.2 106.7l2.4 10.7M846.8 105.6l1.2 5.4M836.1 98.8L869.3 106.2M864.8 105.2l1.4 5.3M854.0 98.9L887.2 106.1M887.2 106.1l2.8 10.6M136.6 125.2L170.6 125.3M166.0 125.3l2.5 4.9M154.6 124.2L188.5 126.3M188.5 126.3l4.4 10.1M172.5 125.6L206.4 124.9M206.4 124.9l5.2 9.7M201.8 125.0l2.6 4.8M190.4 124.7L224.4 125.8M224.4 125.8l4.7 9.9M219.8 125.6l2.3 5.0M208.3 126.2L242.3 124.3M242.3 124.3l5.5 9.5M226.3 124.1L260.2 126.4M260.2 126.4l4.3 10.1M255.6 126.1l2.2 5.1M244.2 124.9L278.1 125.6M278.1 125.6l4.8 9.9M273.5 125.5l2.4 4.9M262.1 124.3L296.1 126.2M291.5 125.9l2.2 5.0M280.0 124.6L314.0 125.9M314.0 125.9l4.6 10.0M298.7 130.2L331.2 120.3M331.2 120.3l7.6 7.9M316.8 130.8L348.9 119.7M348.9 119.7l7.9 7.6M344.6 121.2l4.0 3.8M334.5 130.1L367.1 120.4M367.1 120.4l7.6 8.0M362.7 121.7l3.8 4.0M352.6 130.8L384.8 119.7M384.8 119.7l7.9 7.6M371.0 131.9L402.3 118.6M402.3 118.6l8.4 7.1M398.0 120.4l4.2 3.5M390.3 134.5L418.8 116.0M418.8 116.0l9.5 5.5M408.0 134.2L436.9 116.3M436.9 116.3l9.4 5.7M425.9 134.1L454.9 116.4M454.9 116.4l9.4 5.8M451.0 118.8l4.7 2.9M444.2 134.7L472.5 115.8M472.5 115.8l9.6 5.4M461.1 132.9L491.4 117.6M491.4 117.6l8.9 6.5M479.1 133.2L509.2 117.3M509.2 117.3l9.0 6.3M496.8 132.7L527.4 117.8M527.4 117.8l8.8 6.6M523.2 119.8l4.4 3.3M514.9 133.1L545.1 117.4M545.1 117.4l9.0 6.4M532.7 132.7L563.2 117.8M563.2 117.8l8.8 6.6M559.1 119.8l4.4 3.3M551.2 133.8L580.6 116.7M580.6 116.7l9.3 5.9M576.6 119.0l4.6 3.0M569.2 133.9L598.4 116.6M598.4 116.6l9.3 5.9M587.2 134.1L616.2 116.4M616.2 116.4l9.4 5.7M612.3 118.8l4.7 2.9M605.5 134.7L633.8 115.8M630.0 118.4l4.8 2.7M621.6 119.3L653.5 131.2M653.5 131.2l1.3 10.9M649.2 129.6l0.6 5.5M639.6 119.2L671.4 131.3M671.4 131.3l1.2 10.9M667.1 129.7l0.6 5.5M657.5 119.2L689.3 131.3M689.3 131.3l1.2 10.9M685.0 129.7l0.6 5.5M675.3 119.7L707.4 130.8M703.1 129.3l0.8 5.4M693.6 118.8L725.0 131.7M725.0 131.7l0.9 11.0M711.3 119.3L743.1 131.2M738.8 129.6l0.6 5.5M729.3 119.1L761.0 131.4M756.7 129.8l0.5 5.5M747.4 118.6L778.7 131.9M778.7 131.9l0.7 11.0M774.4 130.1l0.4 5.5M765.3 118.7L796.6 131.8M792.4 130.1l0.4 5.5M782.6 120.4L815.2 130.1M815.2 130.1l2.0 10.8M810.8 128.8l1.0 5.4M801.3 118.4L832.4 132.1M832.4 132.1l0.6 11.0M818.7 119.7L850.8 130.8M850.8 130.8l1.5 10.9M836.6 119.7L868.8 130.8M868.8 130.8l1.5 10.9M854.5 119.7L886.7 130.8M886.7 130.8l1.5 10.9M882.3 129.3l0.7 5.4M136.6 147.1L170.6 148.9M170.6 148.9l4.5 10.1M166.0 148.7l2.2 5.0M154.6 149.2L188.5 146.8M188.5 146.8l5.7 9.4M183.9 147.1l2.8 4.7M172.5 148.0L206.4 148.0M206.4 148.0l5.0 9.8M190.4 147.0L224.3 149.0M219.8 148.7l2.2 5.0M208.3 148.6L242.3 147.4M242.3 147.4l5.3 9.6M226.2 147.9L260.2 148.1M260.2 148.1l5.0 9.8M244.2 148.0L278.1 148.0M278.1 148.0l5.0 9.8M262.1 149.1L296.0 146.9M296.0 146.9l5.6 9.5M291.5 147.2l2.8 4.7M280.0 147.7L314.0 148.3M314.0 148.3l4.8 9.9M309.4 148.2l2.4 4.9M298.0 149.0L331.9 147.0M331.9 147.0l5.6 9.5M327.3 147.3l2.8 4.7M315.9 147.5L349.8 148.5M345.2 148.3l2.4 5.0M333.8 148.5L367.8 147.5M367.8 147.5l5.3 9.7M351.7 148.0L385.7 148.0M385.7 148.0l5.0 9.8M369.6 147.7L403.6 148.3M403.6 148.3l4.8 9.9M387.6 148.1L421.5 147.9M421.5 147.9l5.0 9.8M416.9 147.9l2.5 4.9M405.5 147.6L439.5 148.4M439.5 148.4l4.8 9.9M425.8 156.7L455.0 139.3M455.0 139.3l9.3 5.8M444.0 157.1L472.7 138.9M472.7 138.9l9.5 5.6M468.8 141.3l4.7 2.8M461.8 157.0L490.7 139.0M490.7 139.0l9.4 5.7M479.1 155.9L509.2 140.1M509.2 140.1l9.0 6.4M505.2 142.3l4.5 3.2M497.2 156.2L527.0 139.8M523.0 142.0l4.6 3.1M515.9 157.5L544.1 138.5M544.1 138.5l9.6 5.3M533.2 156.4L562.7 139.6M562.7 139.6l9.2 6.0M551.4 156.9L580.4 139.1M580.4 139.1l9.4 5.7M569.0 156.4L598.6 139.6M598.6 139.6l9.2 6.1M587.6 157.4L615.9 138.6M615.9 138.6l9.6 5.4M604.5 155.6L634.8 140.4M630.7 142.4l4.4 3.3M621.8 141.6L653.3 154.4M653.3 154.4l0.9 11.0M639.7 141.8L671.3 154.2M671.3 154.2l1.1 10.9M667.1 152.5l0.5 5.5M657.4 142.5L689.5 153.5M689.5 153.5l1.5 10.9M685.1 152.0l0.8 5.4M675.1 143.0L707.6 153.0M707.6 153.0l1.9 10.8M703.2 151.7l0.9 5.4M693.0 143.1L725.6 152.9M725.6 152.9l2.0 10.8M711.0 142.9L743.4 153.1M739.0 151.7l0.9 5.4M728.9 142.9L761.4 153.1M757.0 151.7l0.9 5.4M746.8 143.1L779.3 152.9M779.3 152.9l2.0 10.8M765.0 142.1L796.9 153.9M796.9 153.9l1.3 10.9M783.0 142.0L814.8 154.0M814.8 154.0l1.2 10.9M801.2 141.3L832.4 154.7M832.4 154.7l0.7 11.0M828.2 152.9l0.4 5.5M818.8 142.1L850.7 153.9M846.4 152.3l0.6 5.5M836.5 142.7L868.8 153.3M868.8 153.3l1.7 10.9M854.3 143.3L886.9 152.7M882.5 151.4l1.0 5.4M137.4 175.8L169.8 165.7M169.8 165.7l7.7 7.9M165.4 167.1l3.8 3.9M155.8 177.2L187.2 164.3M187.2 164.3l8.4 7.2M173.6 176.8L205.3 164.7M205.3 164.7l8.2 7.4M201.0 166.3l4.1 3.7M191.8 177.6L222.9 163.9M222.9 163.9l8.5 6.9M208.3 169.9L242.3 171.6M242.3 171.6l4.5 10.0M237.7 171.3l2.3 5.0M226.2 169.9L260.2 171.6M260.2 171.6l4.5 10.0M244.2 171.5L278.1 170.0M278.1 170.0l5.4 9.6M262.1 170.8L296.1 170.7M296.1 170.7l5.0 9.8M280.0 170.6L314.0 170.9M314.0 170.9l4.9 9.8M297.9 171.5L331.9 170.0M331.9 170.0l5.4 9.6M315.9 169.6L349.8 171.9M349.8 171.9l4.3 10.1M333.8 170.3L367.8 171.2M367.8 171.2l4.7 9.9M351.7 171.4L385.7 170.1M385.7 170.1l5.4 9.6M369.6 170.2L403.6 171.3M403.6 171.3l4.7 10.0M399.0 171.2l2.3 5.0M387.6 171.5L421.5 170.0M421.5 170.0l5.4 9.6M405.5 171.7L439.4 169.8M439.4 169.8l5.5 9.5M426.2 180.1L454.6 161.4M454.6 161.4l9.5 5.5M450.8 164.0l4.8 2.7M444.0 179.9L472.7 161.6M472.7 161.6l9.5 5.6M468.8 164.1l4.7 2.8M461.4 179.1L491.1 162.4M491.1 162.4l9.2 6.1M487.1 164.7l4.6 3.0M479.0 178.5L509.3 163.0M509.3 163.0l8.9 6.5M497.4 179.3L526.8 162.2M526.8 162.2l9.2 6.0M515.8 180.0L544.3 161.5M544.3 161.5l9.5 5.5M533.4 179.5L562.5 162.0M562.5 162.0l9.3 5.9M550.8 178.6L581.0 162.9M581.0 162.9l8.9 6.4M576.9 165.0l4.5 3.2M569.2 179.5L598.4 162.0M598.4 162.0l9.3 5.8M587.1 179.4L616.4 162.1M616.4 162.1l9.3 5.9M605.1 179.6L634.2 161.9M634.2 161.9l9.4 5.8M630.2 164.3l4.7 2.9M621.6 165.1L653.6 176.4M653.6 176.4l1.4 10.9M639.2 165.8L671.8 175.7M671.8 175.7l1.9 10.8M657.7 164.4L689.2 177.1M689.2 177.1l1.0 11.0M675.8 163.9L706.9 177.6M706.9 177.6l0.6 11.0M693.3 165.0L725.3 176.5M725.3 176.5l1.4 10.9M720.9 175.0l0.7 5.5M711.6 163.9L742.8 177.6M742.8 177.6l0.6 11.0M729.2 164.8L761.1 176.7M761.1 176.7l1.3 10.9M756.7 175.1l0.6 5.5M746.7 166.0L779.4 175.5M779.4 175.5l2.1 10.8M775.0 174.2l1.0 5.4M765.0 165.0L797.0 176.5M797.0 176.5l1.4 10.9M783.0 164.8L814.8 176.7M814.8 176.7l1.3 10.9M810.5 175.1l0.6 5.5M800.6 165.6L833.0 175.9M833.0 175.9l1.8 10.9M828.6 174.5l0.9 5.4M818.4 165.9L851.1 175.6M851.1 175.6l2.0 10.8M846.6 174.3l1.0 5.4M836.4 165.8L868.9 175.7M868.9 175.7l1.9 10.8M854.3 165.9L886.9 175.6M886.9 175.6l2.0 10.8M138.6 201.4L168.6 185.6M168.6 185.6l9.0 6.4M156.0 200.5L187.0 186.5M187.0 186.5l8.6 6.9M182.8 188.4l4.3 3.4M174.0 200.6L204.9 186.4M204.9 186.4l8.6 6.8M192.1 201.1L222.6 185.9M222.6 185.9l8.8 6.6M218.5 188.0l4.4 3.3M208.3 192.5L242.3 194.5M242.3 194.5l4.4 10.1M242.6 176.5L243.9 210.5M243.7 205.9l-4.8 2.7M244.2 194.5L278.1 192.5M278.1 192.5l5.6 9.5M262.1 192.7L296.1 194.3M296.1 194.3l4.5 10.0M280.0 194.6L314.0 192.4M314.0 192.4l5.6 9.5M297.9 194.1L331.9 192.9M331.9 192.9l5.3 9.6M315.9 193.3L349.8 193.7M349.8 193.7l4.9 9.9M345.2 193.7l2.4 4.9M333.8 192.7L367.8 194.3M367.8 194.3l4.5 10.0M351.7 192.7L385.7 194.3M385.7 194.3l4.5 10.0M381.1 194.1l2.3 5.0M369.7 194.7L403.6 192.3M403.6 192.3l5.7 9.4M399.0 192.6l2.8 4.7M387.6 193.1L421.5 193.9M421.5 193.9l4.8 9.9M405.5 193.2L439.5 193.8M439.5 193.8l4.8 9.9M425.2 201.2L455.6 185.8M455.6 185.8l8.9 6.5M442.8 200.3L473.9 186.7M473.9 186.7l8.5 7.0M469.7 188.5l4.3 3.5M460.8 200.6L491.7 186.4M491.7 186.4l8.6 6.8M478.7 200.4L509.7 186.6M509.7 186.6l8.6 6.9M505.5 188.4l4.3 3.5M496.8 201.0L527.4 186.0M527.4 186.0l8.8 6.6M523.2 188.1l4.4 3.3M515.1 201.7L544.9 185.3M544.9 185.3l9.1 6.2M533.1 201.7L562.8 185.3M562.8 185.3l9.1 6.2M551.0 201.7L580.8 185.3M580.8 185.3l9.1 6.2M568.0 199.8L599.6 187.2M599.6 187.2l8.3 7.3M585.9 199.7L617.6 187.3M617.6 187.3l8.2 7.3M604.0 200.2L635.3 186.8M635.3 186.8l8.4 7.0M621.0 189.8L654.2 197.2M654.2 197.2l2.8 10.6M639.1 188.9L671.9 198.1M671.9 198.1l2.1 10.8M667.4 196.9l1.1 5.4M656.8 190.1L690.1 196.9M690.1 196.9l2.9 10.6M685.6 196.0l1.5 5.3M674.9 189.1L707.8 197.9M707.8 197.9l2.3 10.8M693.1 188.2L725.4 198.8M725.4 198.8l1.7 10.9M710.6 189.8L743.8 197.2M743.8 197.2l2.7 10.7M728.8 188.9L761.5 198.1M761.5 198.1l2.2 10.8M746.8 188.6L779.3 198.4M779.3 198.4l1.9 10.8M764.5 189.4L797.5 197.6M797.5 197.6l2.5 10.7M782.8 188.2L815.0 198.8M815.0 198.8l1.7 10.9M800.7 188.1L832.9 198.9M832.9 198.9l1.6 10.9M818.4 189.0L851.1 198.0M851.1 198.0l2.2 10.8M836.0 190.2L869.4 196.8M869.4 196.8l3.0 10.6M864.8 195.9l1.5 5.3M853.9 190.1L887.3 196.9M887.3 196.9l2.9 10.6M139.0 225.0L168.2 207.5M168.2 207.5l9.3 5.8M156.8 224.8L186.2 207.7M186.2 207.7l9.2 6.0M182.2 210.0l4.6 3.0M175.3 225.6L203.6 206.9M203.6 206.9l9.6 5.4M199.8 209.4l4.8 2.7M192.4 224.3L222.4 208.2M222.4 208.2l9.0 6.3M218.3 210.4l4.5 3.1M210.2 224.1L240.4 208.4M240.4 208.4l9.0 6.4M236.3 210.5l4.5 3.2M226.3 218.0L260.1 214.5M260.1 214.5l6.0 9.2M255.6 214.9l6.0 9.2M244.3 218.3L278.0 214.2M278.0 214.2l6.2 9.1M273.5 214.7l3.1 4.6M262.1 217.6L296.0 214.9M296.0 214.9l5.8 9.4M291.4 215.3l2.9 4.7M280.0 217.2L314.0 215.3M314.0 215.3l5.5 9.5M298.1 218.9L331.7 213.6M331.7 213.6l6.5 8.9M315.9 216.6L349.8 215.9M349.8 215.9l5.2 9.7M345.2 216.0l5.2 9.7M333.9 217.9L367.7 214.6M367.7 214.6l5.9 9.3M363.1 215.1l2.9 4.6M351.8 217.8L385.6 214.7M385.6 214.7l5.8 9.3M381.1 215.1l2.9 4.7M369.8 218.8L403.4 213.7M403.4 213.7l6.4 9.0M389.3 223.8L419.8 208.7M419.8 208.7l8.8 6.6M415.7 210.8l4.4 3.3M407.2 223.8L437.7 208.7M437.7 208.7l8.8 6.6M433.6 210.8l8.8 6.6M425.3 224.1L455.5 208.4M455.5 208.4l9.0 6.4M451.4 210.5l4.5 3.2M443.4 224.4L473.2 208.1M473.2 208.1l9.1 6.2M469.2 210.3l4.5 3.1M461.0 223.8L491.5 208.7M491.5 208.7l8.8 6.5M487.3 210.7l4.4 3.3M478.6 223.1L509.7 209.4M509.7 209.4l8.5 7.0M505.5 211.3l4.3 3.5M496.6 223.2L527.6 209.3M527.6 209.3l8.6 6.9M523.4 211.2l4.3 3.4M515.1 224.5L544.9 208.0M544.9 208.0l9.1 6.2M540.9 210.3l4.6 3.1M532.1 222.4L563.8 210.1M563.8 210.1l8.2 7.3M559.5 211.8l4.1 3.7M550.4 223.3L581.4 209.2M581.4 209.2l8.6 6.9M568.0 222.5L599.6 210.0M599.6 210.0l8.3 7.3M595.3 211.7l4.1 3.6M586.7 224.2L616.7 208.3M616.7 208.3l9.0 6.3M612.7 210.4l4.5 3.2M604.3 223.6L635.0 208.9M635.0 208.9l8.8 6.7M630.8 210.9l4.4 3.3M621.1 212.2L654.1 220.3M654.1 220.3l2.5 10.7M649.6 219.2l1.3 5.4M638.9 212.5L672.1 220.0M672.1 220.0l2.7 10.7M667.6 219.0l1.4 5.3M656.9 212.1L689.9 220.4M689.9 220.4l2.5 10.7M685.5 219.2l1.2 5.4M674.5 214.4L708.2 218.1M708.2 218.1l3.9 10.3M703.7 217.6l3.9 10.3M692.6 212.9L725.9 219.6M725.9 219.6l3.0 10.6M710.3 214.4L744.1 218.1M744.1 218.1l3.9 10.3M739.5 217.6l1.9 5.1M728.5 212.6L761.7 219.9M761.7 219.9l2.8 10.6M757.2 218.9l1.4 5.3M746.6 212.1L779.5 220.4M779.5 220.4l2.5 10.7M775.1 219.2l1.2 5.4M764.4 212.3L797.5 220.2M797.5 220.2l2.6 10.7M793.0 219.1l1.3 5.3M782.2 213.3L815.6 219.2M815.6 219.2l3.2 10.5M811.1 218.4l1.6 5.3M800.2 212.7L833.5 219.8M833.5 219.8l2.8 10.6M818.2 212.3L851.3 220.2M851.3 220.2l2.6 10.7M836.1 212.5L869.2 220.0M869.2 220.0l2.7 10.7M864.8 219.0l2.7 10.7M854.1 212.2L887.1 220.3M887.1 220.3l2.5 10.7M138.0 245.8L169.2 232.2M169.2 232.2l8.5 7.0M165.0 234.1l4.2 3.5M155.7 245.3L187.3 232.7M187.3 232.7l8.3 7.3M183.0 234.4l8.3 7.3M174.4 246.9L204.5 231.1M204.5 231.1l9.0 6.3M200.4 233.2l4.5 3.2M192.1 246.5L222.6 231.5M222.6 231.5l8.8 6.6M218.5 233.5l8.8 6.6M209.8 245.9L240.8 232.1M240.8 232.1l8.6 6.9M236.6 233.9l4.3 3.5M228.0 246.7L258.4 231.3M258.4 231.3l8.9 6.5M254.3 233.4l8.9 6.5M245.4 245.4L276.9 232.6M276.9 232.6l8.3 7.2M272.6 234.3l8.3 7.2M263.8 246.5L294.3 231.5M294.3 231.5l8.8 6.6M281.9 246.9L312.1 231.1M312.1 231.1l9.0 6.4M308.0 233.3l9.0 6.4M299.6 246.5L330.2 231.5M330.2 231.5l8.8 6.6M326.1 233.6l8.8 6.6M317.1 245.4L348.6 232.6M348.6 232.6l8.3 7.2M344.3 234.3l8.3 7.2M335.6 246.7L365.9 231.3M365.9 231.3l8.9 6.5M361.8 233.4l8.9 6.5M353.6 246.9L383.8 231.1M383.8 231.1l9.0 6.4M371.6 246.9L401.7 231.1M401.7 231.1l9.0 6.4M397.6 233.3l9.0 6.4M389.5 246.8L419.6 231.2M419.6 231.2l8.9 6.4M415.6 233.3l4.5 3.2M406.7 245.3L438.3 232.7M438.3 232.7l8.3 7.3M424.6 245.4L456.2 232.6M456.2 232.6l8.3 7.2M451.9 234.3l4.2 3.6M443.4 247.2L473.2 230.8M473.2 230.8l9.1 6.2M469.2 233.0l9.1 6.2M461.2 246.9L491.3 231.1M491.3 231.1l9.0 6.4M487.2 233.2l9.0 6.4M478.3 245.2L510.0 232.8M510.0 232.8l8.2 7.3M496.8 246.5L527.4 231.5M527.4 231.5l8.8 6.6M523.2 233.6l4.4 3.3M514.6 246.2L545.4 231.8M545.4 231.8l8.7 6.8M532.5 246.1L563.4 231.9M563.4 231.9l8.6 6.8M550.7 246.7L581.0 231.3M581.0 231.3l8.9 6.5M576.9 233.4l8.9 6.5M568.8 247.0L598.8 231.0M598.8 231.0l9.0 6.3M586.5 246.5L617.0 231.5M617.0 231.5l8.8 6.6M604.5 246.7L634.8 231.3M634.8 231.3l8.9 6.5M630.7 233.4l8.9 6.5M620.6 238.4L654.6 239.6M654.6 239.6l4.7 10.0M638.5 239.8L672.5 238.2M672.5 238.2l5.5 9.5M667.9 238.4l2.7 4.8M656.4 239.5L690.4 238.5M690.4 238.5l5.3 9.6M685.8 238.6l2.7 4.8M674.4 238.4L708.3 239.6M708.3 239.6l4.6 10.0M703.7 239.5l4.6 10.0M692.3 239.0L726.3 239.0M726.3 239.0l5.0 9.8M721.7 239.0l5.0 9.8M710.2 238.0L744.2 240.0M744.2 240.0l4.4 10.1M739.6 239.7l2.2 5.0M728.1 239.6L762.1 238.4M762.1 238.4l5.4 9.6M757.5 238.5l5.4 9.6M746.3 236.4L779.8 241.6M779.8 241.6l3.4 10.5M775.3 240.9l1.7 5.2M764.4 235.1L797.5 242.9M797.5 242.9l2.6 10.7M793.0 241.9l1.3 5.3M782.2 235.7L815.6 242.3M815.6 242.3l3.0 10.6M811.1 241.4l1.5 5.3M800.0 236.3L833.6 241.7M833.6 241.7l3.4 10.5M829.1 240.9l1.7 5.2M818.2 234.9L851.3 243.1M851.3 243.1l2.5 10.7M835.9 236.0L869.4 242.0M869.4 242.0l3.2 10.5M853.8 236.5L887.4 241.5M887.4 241.5l3.5 10.4M882.9 240.8l3.5 10.4M137.5 267.1L169.7 256.4M169.7 256.4l7.8 7.7M165.4 257.9l7.8 7.7M155.4 267.1L187.7 256.4M187.7 256.4l7.8 7.7M183.3 257.9l7.8 7.7M173.4 267.5L205.5 256.0M205.5 256.0l8.0 7.5M191.8 268.6L222.9 254.9M222.9 254.9l8.5 6.9M218.7 256.7l8.5 6.9M209.1 266.9L241.5 256.6M241.5 256.6l7.7 7.8M227.6 268.5L258.8 255.0M258.8 255.0l8.5 7.0M245.0 267.1L277.3 256.4M277.3 256.4l7.8 7.7M265.1 271.4L293.1 252.1M293.1 252.1l9.7 5.2M289.3 254.7l9.7 5.2M283.2 271.7L310.8 251.8M310.8 251.8l9.8 5.0M307.0 254.5l9.8 5.0M300.2 270.2L329.7 253.3M329.7 253.3l9.2 6.0M325.7 255.6l4.6 3.0M317.9 269.9L347.8 253.6M347.8 253.6l9.1 6.2M335.9 270.0L365.6 253.5M365.6 253.5l9.1 6.1M361.6 255.7l9.1 6.1M354.0 270.3L383.4 253.2M383.4 253.2l9.2 6.0M379.4 255.5l4.6 3.0M371.8 270.0L401.5 253.5M401.5 253.5l9.1 6.1M397.5 255.7l9.1 6.1M389.9 270.3L419.2 253.2M419.2 253.2l9.3 6.0M408.3 271.2L436.6 252.3M436.6 252.3l9.6 5.4M432.8 254.9l4.8 2.7M426.0 270.8L454.8 252.7M454.8 252.7l9.4 5.7M450.9 255.2l9.4 5.7M443.8 270.5L472.9 253.0M472.9 253.0l9.3 5.8M468.9 255.3l4.7 2.9M461.2 269.7L491.3 253.8M491.3 253.8l9.0 6.3M487.2 255.9l9.0 6.3M480.0 271.1L508.4 252.4M508.4 252.4l9.6 5.4M504.5 254.9l9.6 5.4M497.4 270.4L526.8 253.1M526.8 253.1l9.3 5.9M522.8 255.5l4.6 3.0M515.5 270.6L544.5 252.9M544.5 252.9l9.4 5.8M540.6 255.3l9.4 5.8M533.3 270.4L562.6 253.1M562.6 253.1l9.3 5.9M558.6 255.5l4.6 3.0M550.9 269.7L580.9 253.8M580.9 253.8l9.0 6.3M576.8 255.9l4.5 3.2M569.8 271.4L597.8 252.1M597.8 252.1l9.7 5.2M587.9 271.6L615.6 251.9M615.6 251.9l9.8 5.1M611.8 254.5l4.9 2.5M605.5 271.2L633.8 252.3M633.8 252.3l9.6 5.4M630.0 254.9l4.8 2.7M620.6 261.2L654.6 262.3M654.6 262.3l4.7 10.0M638.5 261.5L672.5 262.0M672.5 262.0l4.8 9.9M667.9 261.9l4.8 9.9M656.5 260.7L690.4 262.8M690.4 262.8l4.4 10.1M685.8 262.5l4.4 10.1M674.4 262.4L708.3 261.1M708.3 261.1l5.3 9.6M692.3 261.2L726.3 262.3M726.3 262.3l4.7 9.9M710.2 262.5L744.2 261.0M744.2 261.0l5.4 9.6M739.6 261.2l2.7 4.8M728.1 262.1L762.1 261.4M762.1 261.4l5.2 9.7M757.5 261.5l2.6 4.9M747.3 255.4L778.8 268.1M778.8 268.1l1.0 11.0M774.5 266.4l0.5 5.5M765.1 255.8L796.9 267.7M796.9 267.7l1.2 10.9M792.6 266.1l0.6 5.5M783.2 255.2L814.6 268.3M814.6 268.3l0.9 11.0M810.4 266.5l0.4 5.5M800.6 256.6L833.0 266.9M833.0 266.9l1.8 10.9M828.6 265.5l1.8 10.9M818.5 256.8L851.0 266.7M851.0 266.7l1.9 10.8M846.6 265.4l1.9 10.8M836.4 256.9L869.0 266.6M869.0 266.6l2.0 10.8M864.6 265.3l2.0 10.8M854.6 256.0L886.6 267.5M886.6 267.5l1.4 10.9M137.3 289.3L169.9 279.7M169.9 279.7l7.6 8.0M165.5 281.0l7.6 8.0M155.5 290.2L187.5 278.8M187.5 278.8l8.0 7.6M183.2 280.3l4.0 3.8M173.6 290.6L205.3 278.4M205.3 278.4l8.2 7.3M201.0 280.0l4.1 3.7M191.4 290.3L223.4 278.7M223.4 278.7l8.0 7.5M219.0 280.3l8.0 7.5M209.0 289.5L241.6 279.5M241.6 279.5l7.6 7.9M237.2 280.9l7.6 7.9M227.2 290.1L259.3 278.9M259.3 278.9l8.0 7.6M254.9 280.4l4.0 3.8M245.0 289.9L277.3 279.1M277.3 279.1l7.8 7.7M272.9 280.6l3.9 3.9M263.0 290.1L295.1 278.9M295.1 278.9l7.9 7.6M290.8 280.4l4.0 3.8M280.9 289.9L313.1 279.1M313.1 279.1l7.8 7.7M308.8 280.6l7.8 7.7M301.2 294.6L328.6 274.4M328.6 274.4l9.8 4.9M318.5 293.6L347.2 275.4M347.2 275.4l9.5 5.6M343.3 277.9l4.7 2.8M336.3 293.4L365.3 275.6M365.3 275.6l9.4 5.7M361.3 278.0l9.4 5.7M355.3 295.0L382.1 274.0M382.1 274.0l10.0 4.6M378.4 276.8l10.0 4.6M372.8 294.3L400.5 274.7M400.5 274.7l9.7 5.1M396.7 277.3l9.7 5.1M391.2 295.0L417.9 274.0M417.9 274.0l10.0 4.6M414.3 276.8l10.0 4.6M408.5 294.1L436.5 274.9M436.5 274.9l9.7 5.3M432.7 277.5l9.7 5.3M426.1 293.6L454.7 275.4M454.7 275.4l9.5 5.6M444.0 293.6L472.7 275.4M472.7 275.4l9.5 5.6M468.8 277.9l9.5 5.6M461.8 293.4L490.7 275.6M490.7 275.6l9.4 5.7M486.8 278.0l4.7 2.9M480.1 294.0L508.3 275.0M508.3 275.0l9.6 5.3M504.5 277.6l9.6 5.3M497.8 293.7L526.4 275.3M526.4 275.3l9.5 5.6M516.4 294.7L543.6 274.3M543.6 274.3l9.9 4.8M539.9 277.0l9.9 4.8M533.9 294.0L562.0 275.0M562.0 275.0l9.6 5.3M558.2 277.6l9.6 5.3M551.6 293.7L580.2 275.3M580.2 275.3l9.5 5.6M576.3 277.8l4.7 2.8M569.7 293.9L597.9 275.1M597.9 275.1l9.6 5.4M587.8 294.2L615.7 274.8M615.7 274.8l9.7 5.2M611.9 277.4l9.7 5.2M606.4 295.1L632.9 273.9M632.9 273.9l10.0 4.5M629.3 276.7l5.0 2.3M620.6 284.9L654.6 284.1M654.6 284.1l5.2 9.7M650.0 284.2l5.2 9.7M638.5 284.8L672.5 284.2M672.5 284.2l5.2 9.7M667.9 284.3l2.6 4.9M656.5 283.5L690.4 285.5M690.4 285.5l4.4 10.1M685.8 285.2l2.2 5.0M674.4 284.2L708.3 284.8M708.3 284.8l4.8 9.9M703.7 284.7l4.8 9.9M692.3 284.3L726.3 284.7M726.3 284.7l4.9 9.8M721.7 284.6l2.5 4.9M710.2 285.3L744.2 283.7M744.2 283.7l5.5 9.5M728.1 283.6L762.1 285.4M762.1 285.4l4.5 10.0M757.5 285.1l4.5 10.0M746.9 279.2L779.2 289.8M779.2 289.8l1.7 10.9M774.8 288.4l1.7 10.9M764.7 279.7L797.3 289.3M797.3 289.3l2.1 10.8M792.9 288.0l2.1 10.8M783.4 277.6L814.4 291.4M814.4 291.4l0.6 11.0M810.2 289.5l0.6 11.0M800.5 279.7L833.1 289.3M833.1 289.3l2.0 10.8M828.7 288.0l2.0 10.8M818.5 279.5L851.0 289.5M851.0 289.5l1.9 10.8M846.6 288.2l1.9 10.8M836.9 278.1L868.4 290.9M868.4 290.9l1.0 11.0M854.9 278.1L886.3 290.9M886.3 290.9l0.9 11.0M882.1 289.2l0.5 5.5M136.8 309.7L170.4 304.8M170.4 304.8l6.3 9.0M154.9 310.6L188.2 303.9M188.2 303.9l6.9 8.6M183.7 304.8l6.9 8.6M172.5 308.6L206.4 305.9M206.4 305.9l5.8 9.4M190.4 308.4L224.3 306.1M224.3 306.1l5.7 9.4M219.7 306.4l2.8 4.7M208.4 309.0L242.2 305.5M242.2 305.5l6.0 9.2M226.4 310.0L260.0 304.5M260.0 304.5l6.5 8.9M255.5 305.3l3.2 4.4M244.5 310.7L277.8 303.8M277.8 303.8l6.9 8.6M273.3 304.7l3.4 4.3M262.2 309.7L295.9 304.8M295.9 304.8l6.3 9.0M291.3 305.5l6.3 9.0M283.7 317.9L310.3 296.6M310.3 296.6l10.0 4.5M300.8 316.7L329.1 297.8M329.1 297.8l9.6 5.4M325.2 300.4l4.8 2.7M319.3 317.5L346.4 297.0M346.4 297.0l9.9 4.8M342.7 299.8l9.9 4.8M336.8 316.9L364.8 297.6M364.8 297.6l9.7 5.2M361.0 300.2l4.8 2.6M354.7 316.9L382.7 297.6M382.7 297.6l9.7 5.2M378.9 300.2l9.7 5.2M372.4 316.5L400.9 298.0M400.9 298.0l9.5 5.5M397.0 300.5l9.5 5.5M390.7 317.1L418.4 297.4M418.4 297.4l9.7 5.1M414.7 300.1l9.7 5.1M408.6 317.1L436.4 297.4M436.4 297.4l9.7 5.1M432.6 300.1l4.9 2.6M427.0 317.8L453.8 296.7M453.8 296.7l10.0 4.6M450.2 299.6l5.0 2.3M444.7 317.4L471.9 297.1M471.9 297.1l9.9 4.9M468.3 299.8l4.9 2.4M462.7 317.6L489.8 296.9M489.8 296.9l9.9 4.8M481.3 318.3L507.1 296.2M507.1 296.2l10.2 4.2M503.6 299.2l5.1 2.1M497.9 316.6L526.3 297.9M526.3 297.9l9.6 5.4M522.4 300.4l4.8 2.7M516.4 317.5L543.6 297.0M543.6 297.0l9.9 4.8M539.9 299.8l9.9 4.8M533.8 316.7L562.1 297.8M562.1 297.8l9.6 5.4M558.3 300.4l4.8 2.7M552.5 317.8L579.2 296.7M579.2 296.7l10.0 4.6M575.6 299.6l5.0 2.3M569.8 317.0L597.8 297.5M597.8 297.5l9.7 5.2M588.4 317.8L615.0 296.7M615.0 296.7l10.0 4.5M611.4 299.5l10.0 4.5M605.9 317.2L633.4 297.3M633.4 297.3l9.8 5.0M629.7 300.0l9.8 5.0M620.6 306.5L654.6 308.0M654.6 308.0l4.6 10.0M650.0 307.8l2.3 5.0M638.5 307.8L672.5 306.7M672.5 306.7l5.3 9.6M667.9 306.8l5.3 9.6M656.5 306.2L690.4 308.3M690.4 308.3l4.4 10.1M685.8 308.0l4.4 10.1M674.4 308.4L708.3 306.1M708.3 306.1l5.6 9.5M703.7 306.4l2.8 4.7M692.3 307.9L726.3 306.6M726.3 306.6l5.4 9.6M721.7 306.8l2.7 4.8M710.2 306.6L744.2 307.9M744.2 307.9l4.6 10.0M739.6 307.7l2.3 5.0M728.1 306.7L762.1 307.8M762.1 307.8l4.7 10.0M757.5 307.7l2.3 5.0M746.1 306.3L780.0 308.2M780.0 308.2l4.5 10.1M775.4 307.9l4.5 10.1M764.0 307.2L798.0 307.3M798.0 307.3l5.0 9.8M793.4 307.3l2.5 4.9M782.3 303.8L815.5 310.7M815.5 310.7l2.9 10.6M811.0 309.8l2.9 10.6M800.5 302.7L833.2 311.8M833.2 311.8l2.2 10.8M818.1 303.9L851.4 310.6M851.4 310.6l3.0 10.6M846.9 309.7l1.5 5.3M836.0 303.8L869.3 310.7M869.3 310.7l2.9 10.6M854.4 302.2L886.8 312.3M886.8 312.3l1.9 10.8M882.4 310.9l1.9 10.8M136.6 330.6L170.6 329.4M170.6 329.4l5.4 9.6M154.6 332.0L188.4 328.0M188.4 328.0l6.1 9.2M183.8 328.6l3.0 4.6M172.5 331.2L206.4 328.8M206.4 328.8l5.7 9.4M201.8 329.1l2.8 4.7M190.5 332.0L224.3 328.0M224.3 328.0l6.1 9.1M208.5 332.5L242.1 327.5M242.1 327.5l6.4 9.0M237.6 328.2l3.2 4.5M226.2 330.7L260.2 329.3M260.2 329.3l5.4 9.6M255.6 329.5l5.4 9.6M245.4 336.4L276.9 323.6M276.9 323.6l8.3 7.2M263.0 335.4L295.2 324.6M295.2 324.6l7.8 7.7M290.8 326.1l3.9 3.9M281.3 336.6L312.7 323.4M312.7 323.4l8.4 7.1M308.4 325.2l4.2 3.6M300.9 339.6L328.9 320.4M328.9 320.4l9.7 5.2M318.3 338.8L347.4 321.2M347.4 321.2l9.3 5.8M343.5 323.6l4.7 2.9M336.3 338.9L365.2 321.1M365.2 321.1l9.4 5.7M361.3 323.5l4.7 2.9M355.4 340.6L382.0 319.4M382.0 319.4l10.0 4.5M372.8 339.9L400.5 320.1M400.5 320.1l9.8 5.1M396.7 322.8l4.9 2.5M390.5 339.5L418.6 320.5M418.6 320.5l9.6 5.3M414.8 323.1l4.8 2.7M409.0 340.4L435.9 319.6M435.9 319.6l9.9 4.7M432.3 322.4l5.0 2.4M425.9 338.9L454.9 321.1M454.9 321.1l9.4 5.7M450.9 323.5l4.7 2.9M444.0 339.2L472.7 320.8M472.7 320.8l9.5 5.6M468.8 323.3l9.5 5.6M462.9 340.5L489.6 319.5M489.6 319.5l10.0 4.6M486.0 322.3l5.0 2.3M480.0 339.4L508.3 320.6M508.3 320.6l9.6 5.4M504.5 323.1l4.8 2.7M497.6 338.8L526.6 321.2M526.6 321.2l9.4 5.8M522.7 323.6l4.7 2.9M515.8 339.3L544.3 320.7M544.3 320.7l9.5 5.5M540.4 323.2l4.8 2.8M533.4 338.8L562.5 321.2M562.5 321.2l9.4 5.8M551.9 339.7L579.8 320.3M579.8 320.3l9.7 5.2M569.6 339.3L598.0 320.7M598.0 320.7l9.5 5.5M588.4 340.5L615.1 319.5M615.1 319.5l10.0 4.6M611.5 322.3l5.0 2.3M605.5 339.5L633.8 320.5M633.8 320.5l9.6 5.3M629.9 323.1l4.8 2.7M620.8 332.6L654.4 327.4M654.4 327.4l6.4 8.9M649.8 328.1l6.4 8.9M638.5 330.4L672.5 329.6M672.5 329.6l5.2 9.7M667.9 329.7l2.6 4.8M656.6 332.5L690.2 327.5M690.2 327.5l6.4 9.0M685.7 328.2l3.2 4.5M674.4 330.3L708.3 329.7M708.3 329.7l5.2 9.7M703.7 329.8l5.2 9.7M692.5 332.5L726.1 327.5M726.1 327.5l6.4 9.0M710.2 330.4L744.2 329.6M744.2 329.6l5.2 9.7M739.6 329.7l2.6 4.8M728.1 330.6L762.1 329.4M762.1 329.4l5.3 9.6M757.5 329.6l2.7 4.8M746.2 332.6L779.9 327.4M779.9 327.4l6.4 8.9M775.3 328.1l3.2 4.5M764.1 332.2L797.8 327.8M797.8 327.8l6.2 9.1M793.3 328.4l3.1 4.5M782.0 327.8L815.8 332.2M815.8 332.2l3.7 10.4M811.2 331.6l1.8 5.2M799.9 328.1L833.7 331.9M833.7 331.9l3.8 10.3M829.1 331.4l1.9 5.2M818.2 325.9L851.3 334.1M851.3 334.1l2.5 10.7M846.8 333.0l1.2 5.4M835.8 327.8L869.5 332.2M869.5 332.2l3.7 10.4M865.0 331.6l1.8 5.2M853.8 327.3L887.4 332.7M887.4 332.7l3.4 10.5M882.8 332.0l1.7 5.2M136.6 353.6L170.6 351.9M170.6 351.9l5.5 9.5M166.0 352.1l2.7 4.8M154.5 352.4L188.5 353.1M188.5 353.1l4.8 9.9M183.9 353.0l2.4 4.9M172.5 351.8L206.4 353.7M206.4 353.7l4.4 10.1M190.4 352.5L224.4 353.0M224.4 353.0l4.8 9.9M208.3 352.2L242.3 353.3M242.3 353.3l4.6 10.0M226.9 357.5L259.6 348.0M259.6 348.0l7.5 8.0M255.1 349.3l3.8 4.0M244.8 357.3L277.5 348.2M277.5 348.2l7.4 8.1M262.5 356.4L295.7 349.1M295.7 349.1l7.0 8.5M291.2 350.1l3.5 4.3M280.8 358.0L313.2 347.5M313.2 347.5l7.8 7.8M299.9 360.8L329.9 344.7M329.9 344.7l9.0 6.3M317.8 360.6L347.9 344.9M347.9 344.9l9.0 6.4M343.8 347.0l4.5 3.2M336.1 361.2L365.5 344.3M365.5 344.3l9.2 6.0M361.5 346.6l4.6 3.0M353.6 360.6L383.8 344.9M383.8 344.9l8.9 6.4M371.8 361.1L401.4 344.4M401.4 344.4l9.2 6.1M397.4 346.7l4.6 3.0M392.6 364.8L416.5 340.7M416.5 340.7l10.5 3.4M410.2 364.6L434.7 340.9M434.7 340.9l10.4 3.6M428.2 364.6L452.6 340.9M452.6 340.9l10.4 3.5M445.4 363.8L471.3 341.7M471.3 341.7l10.2 4.2M467.8 344.7l5.1 2.1M463.3 363.7L489.2 341.8M489.2 341.8l10.1 4.3M481.9 364.5L506.4 341.0M506.4 341.0l10.4 3.6M499.4 364.0L524.8 341.5M524.8 341.5l10.2 4.0M517.0 363.7L543.1 341.8M543.1 341.8l10.1 4.3M535.0 363.7L560.9 341.8M560.9 341.8l10.1 4.3M557.4 344.7l5.1 2.1M549.7 357.9L582.1 347.6M582.1 347.6l7.7 7.8M567.7 358.3L599.9 347.2M599.9 347.2l7.9 7.6M585.8 358.6L617.7 346.9M617.7 346.9l8.1 7.5M603.8 358.9L635.5 346.6M635.5 346.6l8.2 7.3M621.7 358.9L653.4 346.6M653.4 346.6l8.2 7.3M639.2 357.7L671.8 347.8M671.8 347.8l7.6 7.9M667.4 349.2l3.8 4.0M657.8 359.4L689.1 346.1M689.1 346.1l8.4 7.1M675.7 359.3L707.0 346.2M707.0 346.2l8.4 7.1M693.0 357.5L725.6 348.0M725.6 348.0l7.5 8.0M711.0 358.0L743.4 347.5M743.4 347.5l7.8 7.8M728.9 357.9L761.3 347.6M761.3 347.6l7.7 7.8M757.0 349.0l3.9 3.9M746.1 352.0L780.0 353.5M780.0 353.5l4.6 10.0M764.0 352.4L798.0 353.1M798.0 353.1l4.8 9.9M781.9 352.6L815.9 352.9M815.9 352.9l4.9 9.8M799.8 353.4L833.8 352.1M833.8 352.1l5.4 9.6M817.8 351.8L851.7 353.7M851.7 353.7l4.4 10.1M847.1 353.4l2.2 5.0M835.7 353.2L869.7 352.3M869.7 352.3l5.3 9.7M853.6 352.1L887.6 353.4M887.6 353.4l4.6 10.0M136.6 375.1L170.6 375.9M166.0 375.8l2.4 5.0M154.5 374.8L188.5 376.2M188.5 376.2l4.6 10.0M172.5 374.4L206.4 376.6M206.4 376.6l4.4 10.1M192.3 383.4L222.5 367.6M222.5 367.6l9.0 6.4M209.8 382.5L240.8 368.5M240.8 368.5l8.6 6.9M227.5 382.0L258.9 369.0M258.9 369.0l8.4 7.1M244.5 378.9L277.8 372.1M273.3 373.0l3.4 4.3M262.8 380.6L295.3 370.4M295.3 370.4l7.7 7.9M290.9 371.8l3.8 3.9M280.6 379.9L313.4 371.1M313.4 371.1l7.3 8.2M309.0 372.3l3.7 4.1M298.3 379.0L331.6 372.0M331.6 372.0l6.9 8.6M327.1 373.0l3.4 4.3M316.5 380.3L349.2 370.7M349.2 370.7l7.5 8.0M334.4 380.2L367.1 370.8M362.7 372.1l3.8 4.0M352.4 380.2L385.0 370.8M385.0 370.8l7.5 8.0M380.6 372.0l3.8 4.0M387.1 392.5L386.2 358.5M386.3 363.1l4.8 -2.6M393.4 388.3L415.7 362.7M415.7 362.7l10.7 2.7M410.3 387.4L434.6 363.6M431.3 366.8l5.2 1.8M428.1 387.2L452.7 363.8M452.7 363.8l10.4 3.7M449.4 367.0l5.2 1.8M447.0 388.1L469.7 362.9M469.7 362.9l10.6 2.8M466.6 366.3l5.3 1.4M464.1 387.4L488.4 363.6M488.4 363.6l10.4 3.5M488.0 359.6L500.3 391.4M500.3 391.4l-7.3 8.2M498.7 387.1l-3.7 4.1M505.8 359.7L518.4 391.3M518.4 391.3l-7.2 8.3M523.2 359.9L536.8 391.1M536.8 391.1l-7.0 8.5M535.0 386.9l-3.5 4.2M541.2 359.9L554.7 391.1M554.7 391.1l-7.0 8.5M552.8 386.9l-3.5 4.2M560.9 359.2L570.8 391.8M569.5 387.4l-4.0 3.8M569.0 383.8L598.6 367.2M598.6 367.2l9.1 6.1M587.0 383.9L616.5 367.1M616.5 367.1l9.2 6.0M604.5 383.2L634.8 367.8M630.7 369.9l4.5 3.2M622.6 383.6L652.5 367.4M652.5 367.4l9.1 6.2M648.5 369.6l4.5 3.1M640.1 382.6L670.9 368.4M670.9 368.4l8.6 6.8M666.8 370.3l4.3 3.4M658.9 384.4L687.9 366.6M687.9 366.6l9.4 5.8M684.0 369.0l4.7 2.9M676.0 382.8L706.7 368.2M706.7 368.2l8.7 6.7M694.0 383.0L724.5 368.0M724.5 368.0l8.8 6.6M720.4 370.0l4.4 3.3M711.8 382.8L742.6 368.2M738.4 370.2l4.4 3.4M729.7 382.6L760.5 368.4M760.5 368.4l8.7 6.8M756.4 370.3l4.3 3.4M748.3 384.0L777.8 367.0M777.8 367.0l9.2 6.0M765.7 383.1L796.2 367.9M792.1 370.0l4.4 3.3M784.5 384.5L813.3 366.5M813.3 366.5l9.4 5.7M809.4 369.0l4.7 2.8M800.0 378.0L833.6 373.0M833.6 373.0l6.4 9.0M829.1 373.7l3.2 4.5M818.2 379.4L851.3 371.6M851.3 371.6l7.1 8.4M846.8 372.6l3.6 4.2M835.8 377.5L869.6 373.5M869.6 373.5l6.1 9.2M865.0 374.1l3.1 4.6M853.9 378.9L887.3 372.1M887.3 372.1l6.8 8.6M136.8 395.6L170.4 400.9M165.9 400.2l1.7 5.2M154.7 396.1L188.4 400.4M183.8 399.8l1.9 5.2M172.7 395.6L206.2 400.9M201.7 400.2l1.7 5.2M190.6 395.6L224.2 400.9M219.6 400.2l1.7 5.2M218.8 382.6L231.8 413.9M230.1 409.7l-3.6 4.2M236.1 382.8L250.4 413.7M248.4 409.5l-3.4 4.3M261.0 381.3L261.3 415.2M261.3 410.6l-4.9 2.5M285.9 382.7L272.3 413.8M274.1 409.6l-5.5 0.3M305.9 383.8L288.1 412.7M290.5 408.8l-5.5 -0.4M325.3 384.8L304.5 411.7M307.3 408.1l-5.4 -1.0M342.9 384.5L322.8 412.0M325.5 408.3l-5.4 -0.9M361.2 384.8L340.4 411.7M343.2 408.0l-5.4 -1.0M377.5 383.7L359.9 412.8M362.3 408.9l-5.5 -0.4M395.8 383.9L377.5 412.6M380.0 408.7l-5.5 -0.5M416.0 385.7L393.1 410.8M396.2 407.4l-5.3 -1.5M432.7 384.7L412.3 411.8M415.0 408.2l-5.4 -0.9M450.7 384.7L430.1 411.8M432.9 408.1l-5.4 -1.0M468.9 385.0L447.7 411.5M450.6 407.9l-5.4 -1.1M486.9 385.0L465.6 411.5M468.5 407.9l-5.4 -1.1M505.4 385.5L482.9 411.0M486.0 407.6l-5.3 -1.4M523.2 385.4L501.0 411.1M504.0 407.6l-5.3 -1.3M541.0 385.3L519.0 411.2M522.0 407.7l-5.4 -1.3M558.2 384.7L537.7 411.8M540.5 408.1l-5.4 -1.0M576.3 384.8L555.5 411.7M558.3 408.1l-5.4 -1.0M594.5 385.0L573.1 411.5M576.0 407.9l-5.4 -1.1M613.0 385.5L590.5 411.0M593.5 407.5l-5.3 -1.4M631.0 385.6L608.3 410.9M611.4 407.5l-5.3 -1.4M652.4 390.0L622.7 406.5M626.7 404.3l-4.6 -3.1M670.4 390.0L640.6 406.5M644.6 404.3l-4.6 -3.1M688.1 389.7L658.7 406.8M662.7 404.5l-4.6 -3.0M706.4 390.4L676.3 406.1M680.3 404.0l-4.5 -3.2M724.6 390.8L694.0 405.7M698.1 403.7l-4.4 -3.3M741.3 388.8L713.1 407.7M716.9 405.2l-4.8 -2.7M759.9 389.8L730.4 406.7M734.4 404.4l-4.6 -3.0M777.8 389.9L748.3 406.6M752.3 404.4l-4.6 -3.0M795.6 389.5L766.4 407.0M770.3 404.6l-4.7 -2.9M813.2 389.1L784.6 407.4M788.4 404.9l-4.7 -2.8M849.1 389.1L820.4 407.4M824.3 404.9l-4.7 -2.8M867.0 389.1L838.3 407.4M842.2 404.9l-4.7 -2.8M885.4 390.0L855.8 406.5M859.8 404.3l-4.6 -3.1M151.7 404.1L155.5 437.9M155.0 433.3l-4.6 3.0M168.9 404.2L174.1 437.8M173.4 433.3l-4.5 3.2M186.8 404.2L192.1 437.8M191.4 433.2l-4.5 3.2M213.9 405.3L200.8 436.7M202.6 432.4l-5.5 0.4M232.5 405.6L218.1 436.4M220.1 432.2l-5.5 0.2M290.8 408.7L267.3 433.3M270.5 430.0l-5.3 -1.6M309.8 409.8L284.2 432.2M287.7 429.2l-5.1 -2.0M327.6 409.6L302.3 432.4M305.7 429.3l-5.1 -2.0M344.1 408.3L321.6 433.7M324.6 430.3l-5.3 -1.4M363.1 409.3L338.4 432.7M341.8 429.5l-5.2 -1.8M380.3 408.6L357.1 433.4M360.2 430.0l-5.3 -1.5M399.3 409.7L373.9 432.3M377.4 429.2l-5.1 -2.0M420.3 414.6L388.8 427.4M393.1 425.6l-4.2 -3.6M438.1 414.3L406.8 427.7M411.1 425.9l-4.2 -3.5M456.2 414.8L424.6 427.2M428.8 425.5l-4.1 -3.7M474.1 414.6L442.6 427.4M446.9 425.7l-4.2 -3.6M492.6 416.3L459.9 425.7M464.3 424.5l-3.8 -4.0M510.5 416.2L477.9 425.8M482.3 424.5l-3.8 -4.0M528.0 414.9L496.2 427.1M500.5 425.4l-4.1 -3.7M545.8 414.8L514.2 427.2M518.5 425.6l-4.1 -3.6M564.2 416.1L531.7 425.9M536.1 424.6l-3.8 -4.0M568.2 404.2L563.5 437.8M564.2 433.3l-5.2 1.8M584.4 404.0L583.2 438.0M583.4 433.4l-5.0 2.3M614.1 409.3L589.4 432.7M592.7 429.5l-5.2 -1.9M631.1 408.5L608.2 433.5M611.3 430.1l-5.3 -1.5M649.1 408.5L626.1 433.5M629.2 430.1l-5.3 -1.5M667.2 408.7L643.8 433.3M647.0 430.0l-5.3 -1.6M685.1 408.6L661.8 433.4M664.9 430.0l-5.3 -1.5M703.8 409.5L678.9 432.5M682.2 429.4l-5.2 -1.9M720.7 408.4L697.8 433.6M700.9 430.2l-5.3 -1.5M739.0 408.8L715.4 433.2M718.6 429.9l-5.3 -1.6M757.6 409.4L732.7 432.6M736.1 429.5l-5.2 -1.9M775.4 409.3L750.7 432.7M754.1 429.5l-5.2 -1.8M792.8 408.8L769.1 433.2M772.3 429.9l-5.3 -1.6M810.2 408.3L787.6 433.7M790.6 430.2l-5.3 -1.4M828.9 409.1L804.7 432.9M808.0 429.7l-5.2 -1.7M847.2 409.4L822.3 432.6M825.7 429.5l-5.2 -1.9M863.9 408.2L841.5 433.8M844.5 430.3l-5.3 -1.4M882.7 409.0L858.5 433.0M861.8 429.7l-5.2 -1.7M164.8 431.0L142.4 456.5M142.4 456.5l-10.7 -2.7M182.7 430.9L160.4 456.6M160.4 456.6l-10.7 -2.7M201.3 431.5L177.6 456.0M177.6 456.0l-10.5 -3.2M214.8 428.5L199.9 459.0M201.9 454.9l-5.5 0.1M233.1 428.7L217.5 458.8M219.6 454.8l-5.5 -0.0M250.6 428.4L235.8 459.1M237.8 454.9l-5.5 0.1M268.0 428.2L254.3 459.3M256.1 455.1l-5.5 0.3M290.8 431.5L267.3 456.0M267.3 456.0l-10.5 -3.2M308.7 431.4L285.3 456.1M285.3 456.1l-10.6 -3.1M326.5 431.3L303.3 456.2M303.3 456.2l-10.6 -3.0M343.7 430.7L322.0 456.8M322.0 456.8l-10.7 -2.4M358.5 428.6L343.1 458.9M345.2 454.8l-5.5 0.0M375.3 428.1L362.1 459.4M363.9 455.2l-5.5 0.4M394.8 428.8L378.5 458.7M380.7 454.6l-5.5 -0.2M411.0 428.0L398.1 459.5M399.9 455.2l-5.5 0.5M433.0 430.4L411.9 457.1M411.9 457.1l-10.8 -2.1M451.9 431.2L428.9 456.3M428.9 456.3l-10.6 -2.9M469.7 431.1L447.0 456.4M447.0 456.4l-10.6 -2.8M487.3 430.8L465.2 456.7M465.2 456.7l-10.7 -2.6M500.5 428.0L487.9 459.5M489.6 455.3l-5.5 0.5M519.8 428.6L504.4 458.9M506.5 454.8l-5.5 0.0M537.1 428.3L522.9 459.2M524.8 455.0l-5.5 0.2M554.4 428.0L541.5 459.5M543.3 455.2l-5.5 0.5M576.8 430.7L554.9 456.8M554.9 456.8l-10.7 -2.5M595.4 431.3L572.2 456.2M572.2 456.2l-10.6 -3.0M613.3 431.3L590.1 456.2M590.1 456.2l-10.6 -3.0M631.3 431.3L608.0 456.2M608.0 456.2l-10.6 -3.0M645.5 428.7L629.6 458.8M631.8 454.7l-5.5 -0.1M663.0 428.5L648.0 459.0M650.0 454.9l-5.5 0.1M681.5 428.8L665.4 458.7M667.5 454.7l-5.5 -0.1M699.1 428.6L683.6 458.9M685.7 454.8l-5.5 -0.0M720.4 430.9L698.1 456.6M698.1 456.6l-10.7 -2.7M737.7 430.4L716.7 457.1M716.7 457.1l-10.8 -2.2M756.9 431.4L733.4 456.1M733.4 456.1l-10.5 -3.1M774.4 431.1L751.7 456.4M751.7 456.4l-10.6 -2.8M788.6 428.5L773.4 459.0M775.4 454.8l-5.5 0.0M805.1 427.9L792.7 459.6M794.4 455.3l-5.5 0.5M823.2 428.0L810.4 459.5M812.2 455.2l-5.5 0.5M841.0 427.9L828.5 459.6M830.2 455.3l-5.5 0.5M863.3 430.5L842.0 457.0M842.0 457.0l-10.8 -2.3M881.6 430.8L859.6 456.7M859.6 456.7l-10.7 -2.5M164.1 453.1L143.1 479.9M143.1 479.9l-10.8 -2.1M183.0 453.9L160.1 479.1M160.1 479.1l-10.6 -2.9M201.8 454.8L177.1 478.2M177.1 478.2l-10.4 -3.7M219.2 454.3L195.6 478.7M198.8 475.4l-5.3 -1.6M231.3 450.6L219.3 482.4M220.9 478.1l-5.5 0.6M243.5 449.5L242.9 483.5M260.7 449.5L261.6 483.5M261.4 478.9l-4.8 2.6M283.5 450.1L274.6 482.9M274.6 482.9l-10.8 2.3M307.7 453.3L286.3 479.7M286.3 479.7l-10.8 -2.3M327.7 455.3L302.2 477.7M302.2 477.7l-10.2 -4.1M347.4 457.6L318.3 475.4M318.3 475.4l-9.4 -5.8M365.4 457.9L336.1 475.1M336.1 475.1l-9.3 -5.9M382.9 457.1L354.5 475.9M358.4 473.3l-4.8 -2.7M400.5 456.7L372.7 476.3M376.5 473.6l-4.9 -2.6M418.4 456.7L390.7 476.3M390.7 476.3l-9.7 -5.1M434.6 454.6L410.3 478.4M410.3 478.4l-10.4 -3.5M450.5 452.9L430.3 480.1M430.3 480.1l-10.8 -1.8M470.9 455.1L445.7 477.9M445.7 477.9l-10.3 -3.9M489.5 455.8L463.0 477.2M463.0 477.2l-10.0 -4.5M507.1 455.4L481.3 477.6M481.3 477.6l-10.2 -4.2M526.5 457.4L497.7 475.6M501.6 473.1l-4.7 -2.8M545.0 458.5L515.0 474.5M519.1 472.3l-4.5 -3.1M559.5 454.0L536.4 479.0M539.6 475.6l-5.3 -1.5M565.4 449.5L566.4 483.5M588.3 450.1L579.3 482.9M579.3 482.9l-10.8 2.2M608.5 450.9L594.9 482.1M594.9 482.1l-11.0 0.7M627.6 451.5L611.7 481.5M611.7 481.5l-11.0 -0.2M649.3 454.2L625.8 478.8M625.8 478.8l-10.5 -3.2M668.9 456.0L642.1 477.0M645.7 474.2l-5.0 -2.3M686.0 455.0L660.9 478.0M664.3 474.9l-5.2 -1.9M693.2 449.6L689.5 483.4M690.0 478.8l-5.1 1.9M712.7 449.8L705.9 483.2M705.9 483.2l-10.6 2.9M733.7 450.8L720.7 482.2M720.7 482.2l-11.0 0.9M754.1 452.1L736.2 480.9M736.2 480.9l-11.0 -0.9M773.3 453.0L752.8 480.0M755.5 476.4l-5.4 -1.0M792.2 453.7L769.7 479.3M772.8 475.8l-5.3 -1.4M801.0 449.6L796.8 483.4M797.3 478.8l-5.2 1.9M811.0 450.5L822.7 482.5M837.1 449.7L832.4 483.3M833.0 478.8l-5.2 1.8M857.0 450.1L848.4 482.9M848.4 482.9l-10.7 2.3M878.8 451.6L862.4 481.4M862.4 481.4l-11.0 -0.4"/>
<circle cx="816.8" cy="398.2" r="4.7"/><circle cx="243.2" cy="421.0" r="4.7"/><circle cx="261.1" cy="421.0" r="4.7"/>
</g>
<g font-size="19.6" text-anchor="middle" style="fill:#ff0000">
<text x="422.5" y="159.0" style="fill:#ff0000">-40</text>
<text x="709.6" y="157.0" style="fill:#ff0000">-40</text>
<text x="387.3" y="209.0" style="fill:#ff0000">-20</text>
<text x="638.3" y="207.3" style="fill:#ff0000">-20</text>
<text x="386.3" y="302.9" style="fill:#ff0000">0</text>
<text x="691.1" y="300.4" style="fill:#ff0000">0</text>
<text x="404.9" y="415.7" style="fill:#ff0000">20</text>
<text x="636.6" y="421.8" style="fill:#ff0000">20</text>
</g>
<g font-size="11" text-anchor="middle">
<g transform="translate(304.1 124.3) rotate(70)"><rect x="-7.6" y="-5.6" width="15.2" height="11.2" fill="#fff"/><text y="3.9">40</text></g>
<g transform="translate(258.5 158.5) rotate(-90)"><rect x="-7.6" y="-5.6" width="15.2" height="11.2" fill="#fff"/><text y="3.9">40</text></g>
<g transform="translate(297.4 215.3) rotate(0)"><rect x="-7.6" y="-5.6" width="15.2" height="11.2" fill="#fff"/><text y="3.9">60</text></g>
<g transform="translate(224.0 239.0) rotate(28)"><rect x="-7.6" y="-5.6" width="15.2" height="11.2" fill="#fff"/><text y="3.9">60</text></g>
<g transform="translate(171.4 298.0) rotate(0)"><rect x="-7.6" y="-5.6" width="15.2" height="11.2" fill="#fff"/><text y="3.9">80</text></g>
<g transform="translate(294.0 307.4) rotate(65)"><rect x="-7.6" y="-5.6" width="15.2" height="11.2" fill="#fff"/><text y="3.9">60</text></g>
<g transform="translate(396.2 283.7) rotate(65)"><rect x="-7.6" y="-5.6" width="15.2" height="11.2" fill="#fff"/><text y="3.9">40</text></g>
<g transform="translate(383.0 318.7) rotate(80)"><rect x="-7.6" y="-5.6" width="15.2" height="11.2" fill="#fff"/><text y="3.9">60</text></g>
<g transform="translate(430.0 341.2) rotate(-80)"><rect x="-7.6" y="-5.6" width="15.2" height="11.2" fill="#fff"/><text y="3.9">60</text></g>
<g transform="translate(314.3 405.9) rotate(35)"><rect x="-7.6" y="-5.6" width="15.2" height="11.2" fill="#fff"/><text y="3.9">60</text></g>
<g transform="translate(376.3 421.0) rotate(-30)"><rect x="-7.6" y="-5.6" width="15.2" height="11.2" fill="#fff"/><text y="3.9">80</text></g>
<g transform="translate(453.8 397.6) rotate(-65)"><rect x="-7.6" y="-5.6" width="15.2" height="11.2" fill="#fff"/><text y="3.9">80</text></g>
<g transform="translate(512.3 344.2) rotate(-10)"><rect x="-7.6" y="-5.6" width="15.2" height="11.2" fill="#fff"/><text y="3.9">80</text></g>
<g transform="translate(422.6 161.9) rotate(-65)"><rect x="-7.6" y="-5.6" width="15.2" height="11.2" fill="#fff"/><text y="3.9">60</text></g>
<g transform="translate(457.5 213.4) rotate(40)"><rect x="-7.6" y="-5.6" width="15.2" height="11.2" fill="#fff"/><text y="3.9">60</text></g>
<g transform="translate(504.5 216.0) rotate(50)"><rect x="-7.6" y="-5.6" width="15.2" height="11.2" fill="#fff"/><text y="3.9">80</text></g>
<g transform="translate(525.7 111.9) rotate(-80)"><rect x="-7.6" y="-5.6" width="15.2" height="11.2" fill="#fff"/><text y="3.9">40</text></g>
<g transform="translate(590.7 136.4) rotate(-75)"><rect x="-7.6" y="-5.6" width="15.2" height="11.2" fill="#fff"/><text y="3.9">60</text></g>
<g transform="translate(525.7 170.2) rotate(-55)"><rect x="-7.6" y="-5.6" width="15.2" height="11.2" fill="#fff"/><text y="3.9">60</text></g>
<g transform="translate(708.0 139.4) rotate(45)"><rect x="-7.6" y="-5.6" width="15.2" height="11.2" fill="#fff"/><text y="3.9">60</text></g>
<g transform="translate(839.6 123.2) rotate(-60)"><rect x="-7.6" y="-5.6" width="15.2" height="11.2" fill="#fff"/><text y="3.9">40</text></g>
<g transform="translate(756.9 170.2) rotate(-90)"><rect x="-7.6" y="-5.6" width="15.2" height="11.2" fill="#fff"/><text y="3.9">60</text></g>
<g transform="translate(550.9 216.0) rotate(-80)"><rect x="-7.6" y="-5.6" width="15.2" height="11.2" fill="#fff"/><text y="3.9">60</text></g>
<g transform="translate(637.3 219.0) rotate(-5)"><rect x="-7.6" y="-5.6" width="15.2" height="11.2" fill="#fff"/><text y="3.9">60</text></g>
<g transform="translate(676.0 238.6) rotate(-80)"><rect x="-7.6" y="-5.6" width="15.2" height="11.2" fill="#fff"/><text y="3.9">80</text></g>
<g transform="translate(731.3 227.3) rotate(-85)"><rect x="-7.6" y="-5.6" width="15.2" height="11.2" fill="#fff"/><text y="3.9">80</text></g>
<g transform="translate(820.0 227.3) rotate(95)"><rect x="-7.6" y="-5.6" width="15.2" height="11.2" fill="#fff"/><text y="3.9">60</text></g>
<g transform="translate(583.2 277.3) rotate(-5)"><rect x="-7.6" y="-5.6" width="15.2" height="11.2" fill="#fff"/><text y="3.9">60</text></g>
<g transform="translate(738.0 330.0) rotate(-65)"><rect x="-7.6" y="-5.6" width="15.2" height="11.2" fill="#fff"/><text y="3.9">80</text></g>
<g transform="translate(589.6 363.8) rotate(-85)"><rect x="-7.6" y="-5.6" width="15.2" height="11.2" fill="#fff"/><text y="3.9">60</text></g>
<g transform="translate(571.9 420.2) rotate(-80)"><rect x="-7.6" y="-5.6" width="15.2" height="11.2" fill="#fff"/><text y="3.9">80</text></g>
<g transform="translate(811.4 375.0) rotate(-50)"><rect x="-7.6" y="-5.6" width="15.2" height="11.2" fill="#fff"/><text y="3.9">80</text></g>
</g>
</g>
<g stroke="#000" stroke-width="1.3" fill="none">
<path d="M153.60 102.50v13.5M153.60 512.00v-14.0M171.53 102.50v13.5M171.53 512.00v-14.0M189.45 102.50v13.5M189.45 512.00v-14.0M207.38 102.50v13.5M207.38 512.00v-14.0M225.30 102.50v13.5M225.30 512.00v-14.0M243.22 102.50v13.5M243.22 512.00v-14.0M261.15 102.50v13.5M261.15 512.00v-14.0M279.07 102.50v13.5M279.07 512.00v-14.0M297.00 102.50v13.5M297.00 512.00v-14.0M314.93 102.50v13.5M314.93 512.00v-14.0M332.85 102.50v13.5M332.85 512.00v-14.0M350.77 102.50v13.5M350.77 512.00v-14.0M368.70 102.50v13.5M368.70 512.00v-14.0M386.62 102.50v13.5M386.62 512.00v-14.0M404.55 102.50v13.5M404.55 512.00v-14.0M422.48 102.50v13.5M422.48 512.00v-14.0M440.40 102.50v13.5M440.40 512.00v-14.0M458.33 102.50v13.5M458.33 512.00v-14.0M476.25 102.50v13.5M476.25 512.00v-14.0M494.17 102.50v13.5M494.17 512.00v-14.0M512.10 102.50v13.5M512.10 512.00v-14.0M530.02 102.50v13.5M530.02 512.00v-14.0M547.95 102.50v13.5M547.95 512.00v-14.0M565.88 102.50v13.5M565.88 512.00v-14.0M583.80 102.50v13.5M583.80 512.00v-14.0M601.73 102.50v13.5M601.73 512.00v-14.0M619.65 102.50v13.5M619.65 512.00v-14.0M637.58 102.50v13.5M637.58 512.00v-14.0M655.50 102.50v13.5M655.50 512.00v-14.0M673.43 102.50v13.5M673.43 512.00v-14.0M691.35 102.50v13.5M691.35 512.00v-14.0M709.28 102.50v13.5M709.28 512.00v-14.0M727.20 102.50v13.5M727.20 512.00v-14.0M745.12 102.50v13.5M745.12 512.00v-14.0M763.05 102.50v13.5M763.05 512.00v-14.0M780.98 102.50v13.5M780.98 512.00v-14.0M798.90 102.50v13.5M798.90 512.00v-14.0M816.83 102.50v13.5M816.83 512.00v-14.0M834.75 102.50v13.5M834.75 512.00v-14.0M852.68 102.50v13.5M852.68 512.00v-14.0M870.60 102.50v13.5M870.60 512.00v-14.0M153.60 102.50h24M870.60 102.50h-24M153.60 125.25h24M870.60 125.25h-24M153.60 148.00h24M870.60 148.00h-24M153.60 170.75h24M870.60 170.75h-24M153.60 193.50h24M870.60 193.50h-24M153.60 216.25h24M870.60 216.25h-24M153.60 239.00h24M870.60 239.00h-24M153.60 261.75h24M870.60 261.75h-24M153.60 284.50h24M870.60 284.50h-24M153.60 307.25h24M870.60 307.25h-24M153.60 330.00h24M870.60 330.00h-24M153.60 352.75h24M870.60 352.75h-24M153.60 375.50h24M870.60 375.50h-24M153.60 398.25h24M870.60 398.25h-24M153.60 421.00h24M870.60 421.00h-24M153.60 443.75h24M870.60 443.75h-24M153.60 466.50h24M870.60 466.50h-24M153.60 489.25h24M870.60 489.25h-24M153.60 512.00h24M870.60 512.00h-24" stroke-width="1.1"/>
<rect x="153.60" y="102.50" width="717.00" height="409.50"/>
</g>
<g font-size="19" text-anchor="end">
<text x="140.9" y="109.20">150</text>
<text x="140.9" y="131.95">200</text>
<text x="140.9" y="154.70">250</text>
<text x="140.9" y="177.45">300</text>
<text x="140.9" y="200.20">350</text>
<text x="140.9" y="222.95">400</text>
<text x="140.9" y="245.70">450</text>
<text x="140.9" y="268.45">500</text>
<text x="140.9" y="291.20">550</text>
<text x="140.9" y="313.95">600</text>
<text x="140.9" y="336.70">650</text>
<text x="140.9" y="359.45">700</text>
<text x="140.9" y="382.20">750</text>
<text x="140.9" y="404.95">800</text>
<text x="140.9" y="427.70">850</text>
<text x="140.9" y="450.45">925</text>
<text x="140.9" y="473.20">950</text>
<text x="140.9" y="495.95">975</text>
<text x="140.9" y="518.70">1000</text>
</g>
<g font-size="17" text-anchor="end">
<text transform="translate(152.30 523.6) rotate(-90)" y="6.0">29_00</text>
<text transform="translate(170.22 523.6) rotate(-90)" y="6.0">29_03</text>
<text transform="translate(188.15 523.6) rotate(-90)" y="6.0">29_06</text>
<text transform="translate(206.07 523.6) rotate(-90)" y="6.0">29_09</text>
<text transform="translate(224.00 523.6) rotate(-90)" y="6.0">29_12</text>
<text transform="translate(241.92 523.6) rotate(-90)" y="6.0">29_15</text>
<text transform="translate(259.85 523.6) rotate(-90)" y="6.0">29_18</text>
<text transform="translate(277.77 523.6) rotate(-90)" y="6.0">29_21</text>
<text transform="translate(295.70 523.6) rotate(-90)" y="6.0">30_00</text>
<text transform="translate(313.62 523.6) rotate(-90)" y="6.0">30_03</text>
<text transform="translate(331.55 523.6) rotate(-90)" y="6.0">30_06</text>
<text transform="translate(349.47 523.6) rotate(-90)" y="6.0">30_09</text>
<text transform="translate(367.40 523.6) rotate(-90)" y="6.0">30_12</text>
<text transform="translate(385.32 523.6) rotate(-90)" y="6.0">30_15</text>
<text transform="translate(403.25 523.6) rotate(-90)" y="6.0">30_18</text>
<text transform="translate(421.18 523.6) rotate(-90)" y="6.0">30_21</text>
<text transform="translate(439.10 523.6) rotate(-90)" y="6.0">31_00</text>
<text transform="translate(457.03 523.6) rotate(-90)" y="6.0">31_03</text>
<text transform="translate(474.95 523.6) rotate(-90)" y="6.0">31_06</text>
<text transform="translate(492.87 523.6) rotate(-90)" y="6.0">31_09</text>
<text transform="translate(510.80 523.6) rotate(-90)" y="6.0">31_12</text>
<text transform="translate(528.73 523.6) rotate(-90)" y="6.0">31_15</text>
<text transform="translate(546.65 523.6) rotate(-90)" y="6.0">31_18</text>
<text transform="translate(564.58 523.6) rotate(-90)" y="6.0">31_21</text>
<text transform="translate(582.50 523.6) rotate(-90)" y="6.0">01_00</text>
<text transform="translate(600.43 523.6) rotate(-90)" y="6.0">01_03</text>
<text transform="translate(618.35 523.6) rotate(-90)" y="6.0">01_06</text>
<text transform="translate(636.28 523.6) rotate(-90)" y="6.0">01_09</text>
<text transform="translate(654.20 523.6) rotate(-90)" y="6.0">01_12</text>
<text transform="translate(672.13 523.6) rotate(-90)" y="6.0">01_15</text>
<text transform="translate(690.05 523.6) rotate(-90)" y="6.0">01_18</text>
<text transform="translate(707.98 523.6) rotate(-90)" y="6.0">01_21</text>
<text transform="translate(725.90 523.6) rotate(-90)" y="6.0">02_00</text>
<text transform="translate(743.83 523.6) rotate(-90)" y="6.0">02_03</text>
<text transform="translate(761.75 523.6) rotate(-90)" y="6.0">02_06</text>
<text transform="translate(779.68 523.6) rotate(-90)" y="6.0">02_09</text>
<text transform="translate(797.60 523.6) rotate(-90)" y="6.0">02_12</text>
<text transform="translate(815.53 523.6) rotate(-90)" y="6.0">02_15</text>
<text transform="translate(833.45 523.6) rotate(-90)" y="6.0">02_18</text>
<text transform="translate(851.38 523.6) rotate(-90)" y="6.0">02_21</text>
<text transform="translate(869.30 523.6) rotate(-90)" y="6.0">03_00</text>
</g>
<text transform="translate(82.0 308.3) rotate(-90)" font-size="24" text-anchor="middle">Pressure (hPa)</text>
<rect x="546.7" y="578.1" width="324" height="24.4" fill="#fff" stroke="#777" stroke-width="1"/>
<text x="708.7" y="596.8" font-size="19.7" text-anchor="middle">CONTOUR FROM -60 TO 30 BY 10</text>
<rect x="920.00" y="96.10" width="25.30" height="43.44" fill="#169516"/>
<rect x="920.00" y="139.24" width="25.30" height="43.44" fill="#35c435"/>
<rect x="920.00" y="182.39" width="25.30" height="43.44" fill="#52fb52"/>
<rect x="920.00" y="225.53" width="25.30" height="43.44" fill="#7cfc7c"/>
<rect x="920.00" y="268.68" width="25.30" height="43.44" fill="#bdfdbd"/>
<rect x="920.00" y="311.82" width="25.30" height="43.44" fill="#ebfeeb"/>
<rect x="920.00" y="354.97" width="25.30" height="43.44" fill="#ffffff"/>
<rect x="920.00" y="398.11" width="25.30" height="43.44" fill="#ffffff"/>
<rect x="920.00" y="441.26" width="25.30" height="43.44" fill="#ffffff"/>
<path d="M920.00 139.24H945.30M920.00 182.39H945.30M920.00 225.53H945.30M920.00 268.68H945.30M920.00 311.82H945.30M920.00 354.97H945.30M920.00 398.11H945.30M920.00 441.26H945.30" stroke="#000" stroke-width="0.7" fill="none"/>
<rect x="920.00" y="96.10" width="25.30" height="388.30" fill="none" stroke="#808080" stroke-width="1"/>
<g font-size="14.2">
<text x="964" y="144.74">90</text>
<text x="964" y="187.89">80</text>
<text x="964" y="231.03">70</text>
<text x="964" y="274.18">60</text>
<text x="964" y="317.32">50</text>
<text x="964" y="360.47">40</text>
<text x="964" y="403.61">30</text>
<text x="964" y="446.76">20</text>
</g>
<g fill="#0000ff" stroke="#000" stroke-width="0.8">
<rect x="216.34" y="772.48" width="17.93" height="5.52"/>
<rect x="234.26" y="773.91" width="17.93" height="4.09"/>
<rect x="377.66" y="770.44" width="17.92" height="7.56"/>
<rect x="395.59" y="775.55" width="17.92" height="2.45"/>
<rect x="503.14" y="774.12" width="17.92" height="3.88"/>
<rect x="521.06" y="764.51" width="17.92" height="13.49"/>
<rect x="538.99" y="766.35" width="17.92" height="11.65"/>
<rect x="556.91" y="767.17" width="17.92" height="10.83"/>
<rect x="574.84" y="776.77" width="17.92" height="1.23"/>
<rect x="646.54" y="771.05" width="17.92" height="6.95"/>
<rect x="664.46" y="772.89" width="17.92" height="5.11"/>
<rect x="682.39" y="774.93" width="17.92" height="3.07"/>
<rect x="754.09" y="776.77" width="17.92" height="1.23"/>
<rect x="789.94" y="774.53" width="17.92" height="3.47"/>
<rect x="807.86" y="773.30" width="17.92" height="4.70"/>
<rect x="825.79" y="766.76" width="17.92" height="11.24"/>
<rect x="843.71" y="772.89" width="17.92" height="5.11"/>
<rect x="861.64" y="776.36" width="8.96" height="1.64"/>
</g>
<path d="M153.60 778.00h-13.8M870.60 778.00h13.8M153.60 761.65h-13.8M870.60 761.65h13.8M153.60 745.30h-13.8M870.60 745.30h13.8M153.60 728.94h-13.8M870.60 728.94h13.8M153.60 712.59h-13.8M870.60 712.59h13.8M153.60 696.24h-13.8M870.60 696.24h13.8M153.60 679.89h-13.8M870.60 679.89h13.8" stroke="#3a3a3a" stroke-width="1.4" fill="none"/>
<path d="M153.60 773.91h-7M870.60 773.91h7M153.60 769.82h-7M870.60 769.82h7M153.60 765.74h-7M870.60 765.74h7M153.60 757.56h-7M870.60 757.56h7M153.60 753.47h-7M870.60 753.47h7M153.60 749.38h-7M870.60 749.38h7M153.60 741.21h-7M870.60 741.21h7M153.60 737.12h-7M870.60 737.12h7M153.60 733.03h-7M870.60 733.03h7M153.60 724.86h-7M870.60 724.86h7M153.60 720.77h-7M870.60 720.77h7M153.60 716.68h-7M870.60 716.68h7M153.60 708.50h-7M870.60 708.50h7M153.60 704.42h-7M870.60 704.42h7M153.60 700.33h-7M870.60 700.33h7M153.60 692.15h-7M870.60 692.15h7M153.60 688.06h-7M870.60 688.06h7M153.60 683.98h-7M870.60 683.98h7M153.60 675.80h-7M870.60 675.80h7" stroke="#666" stroke-width="0.9" fill="none"/>
<path d="M153.60 778.00v14M171.53 778.00v14M189.45 778.00v14M207.38 778.00v14M225.30 778.00v14M243.22 778.00v14M261.15 778.00v14M279.07 778.00v14M297.00 778.00v14M314.93 778.00v14M332.85 778.00v14M350.77 778.00v14M368.70 778.00v14M386.62 778.00v14M404.55 778.00v14M422.48 778.00v14M440.40 778.00v14M458.33 778.00v14M476.25 778.00v14M494.17 778.00v14M512.10 778.00v14M530.02 778.00v14M547.95 778.00v14M565.88 778.00v14M583.80 778.00v14M601.73 778.00v14M619.65 778.00v14M637.58 778.00v14M655.50 778.00v14M673.43 778.00v14M691.35 778.00v14M709.28 778.00v14M727.20 778.00v14M745.12 778.00v14M763.05 778.00v14M780.98 778.00v14M798.90 778.00v14M816.83 778.00v14M834.75 778.00v14M852.68 778.00v14M870.60 778.00v14" stroke="#000" stroke-width="1.0" fill="none"/>
<rect x="153.60" y="675.80" width="717.00" height="102.20" fill="none" stroke="#000" stroke-width="1.2"/>
<g font-size="10.9" text-anchor="end">
<text x="132.4" y="781.80">0</text>
<text x="132.4" y="765.45">4</text>
<text x="132.4" y="749.10">8</text>
<text x="132.4" y="732.74">12</text>
<text x="132.4" y="716.39">16</text>
<text x="132.4" y="700.04">20</text>
<text x="132.4" y="683.69">24</text>
</g>
<g font-size="16.4" text-anchor="end">
<text transform="translate(153.60 782.6) rotate(-90)" y="12.0">29_00</text>
<text transform="translate(171.53 782.6) rotate(-90)" y="12.0">29_03</text>
<text transform="translate(189.45 782.6) rotate(-90)" y="12.0">29_06</text>
<text transform="translate(207.38 782.6) rotate(-90)" y="12.0">29_09</text>
<text transform="translate(225.30 782.6) rotate(-90)" y="12.0">29_12</text>
<text transform="translate(243.22 782.6) rotate(-90)" y="12.0">29_15</text>
<text transform="translate(261.15 782.6) rotate(-90)" y="12.0">29_18</text>
<text transform="translate(279.07 782.6) rotate(-90)" y="12.0">29_21</text>
<text transform="translate(297.00 782.6) rotate(-90)" y="12.0">30_00</text>
<text transform="translate(314.93 782.6) rotate(-90)" y="12.0">30_03</text>
<text transform="translate(332.85 782.6) rotate(-90)" y="12.0">30_06</text>
<text transform="translate(350.77 782.6) rotate(-90)" y="12.0">30_09</text>
<text transform="translate(368.70 782.6) rotate(-90)" y="12.0">30_12</text>
<text transform="translate(386.62 782.6) rotate(-90)" y="12.0">30_15</text>
<text transform="translate(404.55 782.6) rotate(-90)" y="12.0">30_18</text>
<text transform="translate(422.48 782.6) rotate(-90)" y="12.0">30_21</text>
<text transform="translate(440.40 782.6) rotate(-90)" y="12.0">31_00</text>
<text transform="translate(458.33 782.6) rotate(-90)" y="12.0">31_03</text>
<text transform="translate(476.25 782.6) rotate(-90)" y="12.0">31_06</text>
<text transform="translate(494.17 782.6) rotate(-90)" y="12.0">31_09</text>
<text transform="translate(512.10 782.6) rotate(-90)" y="12.0">31_12</text>
<text transform="translate(530.02 782.6) rotate(-90)" y="12.0">31_15</text>
<text transform="translate(547.95 782.6) rotate(-90)" y="12.0">31_18</text>
<text transform="translate(565.88 782.6) rotate(-90)" y="12.0">31_21</text>
<text transform="translate(583.80 782.6) rotate(-90)" y="12.0">01_00</text>
<text transform="translate(601.73 782.6) rotate(-90)" y="12.0">01_03</text>
<text transform="translate(619.65 782.6) rotate(-90)" y="12.0">01_06</text>
<text transform="translate(637.58 782.6) rotate(-90)" y="12.0">01_09</text>
<text transform="translate(655.50 782.6) rotate(-90)" y="12.0">01_12</text>
<text transform="translate(673.43 782.6) rotate(-90)" y="12.0">01_15</text>
<text transform="translate(691.35 782.6) rotate(-90)" y="12.0">01_18</text>
<text transform="translate(709.28 782.6) rotate(-90)" y="12.0">01_21</text>
<text transform="translate(727.20 782.6) rotate(-90)" y="12.0">02_00</text>
<text transform="translate(745.12 782.6) rotate(-90)" y="12.0">02_03</text>
<text transform="translate(763.05 782.6) rotate(-90)" y="12.0">02_06</text>
<text transform="translate(780.98 782.6) rotate(-90)" y="12.0">02_09</text>
<text transform="translate(798.90 782.6) rotate(-90)" y="12.0">02_12</text>
<text transform="translate(816.83 782.6) rotate(-90)" y="12.0">02_15</text>
<text transform="translate(834.75 782.6) rotate(-90)" y="12.0">02_18</text>
<text transform="translate(852.68 782.6) rotate(-90)" y="12.0">02_21</text>
<text transform="translate(870.60 782.6) rotate(-90)" y="12.0">03_00</text>
</g>
<text transform="translate(103.2 726.9) rotate(-90)" font-size="23.3" text-anchor="middle">3hr rain total</text>
<polyline fill="none" stroke="#ff0000" stroke-width="1.1" stroke-linejoin="round" points="153.60,922.30 171.53,933.50 189.45,920.80 207.38,875.40 225.30,854.40 243.22,844.20 261.15,858.80 279.07,880.50 297.00,909.30 314.93,925.50 332.85,927.20 350.77,887.60 368.70,855.90 386.62,849.00 404.55,867.80 422.48,893.50 440.40,908.90 458.33,924.20 476.25,921.30 494.17,880.80 512.10,851.20 530.02,847.10 547.95,870.30 565.88,925.70 583.80,921.80 601.73,930.10 619.65,930.60 637.58,893.50 655.50,864.90 673.43,856.40 691.35,875.90 709.28,895.40 727.20,919.80 745.12,932.50 763.05,937.40 780.98,902.50 798.90,873.50 816.83,861.70 834.75,882.50 852.68,906.40 870.60,924.00"/>
<path d="M153.60 928.90h-13.8M870.60 928.90h13.8M153.60 910.90h-13.8M870.60 910.90h13.8M153.60 892.90h-13.8M870.60 892.90h13.8M153.60 874.90h-13.8M870.60 874.90h13.8M153.60 856.90h-13.8M870.60 856.90h13.8" stroke="#3a3a3a" stroke-width="1.4" fill="none"/>
<path d="M153.60 937.90h-7M870.60 937.90h7M153.60 933.40h-7M870.60 933.40h7M153.60 924.40h-7M870.60 924.40h7M153.60 919.90h-7M870.60 919.90h7M153.60 915.40h-7M870.60 915.40h7M153.60 906.40h-7M870.60 906.40h7M153.60 901.90h-7M870.60 901.90h7M153.60 897.40h-7M870.60 897.40h7M153.60 888.40h-7M870.60 888.40h7M153.60 883.90h-7M870.60 883.90h7M153.60 879.40h-7M870.60 879.40h7M153.60 870.40h-7M870.60 870.40h7M153.60 865.90h-7M870.60 865.90h7M153.60 861.40h-7M870.60 861.40h7M153.60 852.40h-7M870.60 852.40h7M153.60 847.90h-7M870.60 847.90h7M153.60 843.40h-7M870.60 843.40h7" stroke="#666" stroke-width="0.9" fill="none"/>
<path d="M153.60 941.20v14M171.53 941.20v14M189.45 941.20v14M207.38 941.20v14M225.30 941.20v14M243.22 941.20v14M261.15 941.20v14M279.07 941.20v14M297.00 941.20v14M314.93 941.20v14M332.85 941.20v14M350.77 941.20v14M368.70 941.20v14M386.62 941.20v14M404.55 941.20v14M422.48 941.20v14M440.40 941.20v14M458.33 941.20v14M476.25 941.20v14M494.17 941.20v14M512.10 941.20v14M530.02 941.20v14M547.95 941.20v14M565.88 941.20v14M583.80 941.20v14M601.73 941.20v14M619.65 941.20v14M637.58 941.20v14M655.50 941.20v14M673.43 941.20v14M691.35 941.20v14M709.28 941.20v14M727.20 941.20v14M745.12 941.20v14M763.05 941.20v14M780.98 941.20v14M798.90 941.20v14M816.83 941.20v14M834.75 941.20v14M852.68 941.20v14M870.60 941.20v14" stroke="#000" stroke-width="1.0" fill="none"/>
<rect x="153.60" y="839.60" width="717.00" height="101.60" fill="none" stroke="#000" stroke-width="1.2"/>
<g font-size="10.9" text-anchor="end">
<text x="132.4" y="932.70">26.0</text>
<text x="132.4" y="914.70">28.0</text>
<text x="132.4" y="896.70">30.0</text>
<text x="132.4" y="878.70">32.0</text>
<text x="132.4" y="860.70">34.0</text>
</g>
<g font-size="16.4" text-anchor="end">
<text transform="translate(153.60 946.0) rotate(-90)" y="12.0">29_00</text>
<text transform="translate(171.53 946.0) rotate(-90)" y="12.0">29_03</text>
<text transform="translate(189.45 946.0) rotate(-90)" y="12.0">29_06</text>
<text transform="translate(207.38 946.0) rotate(-90)" y="12.0">29_09</text>
<text transform="translate(225.30 946.0) rotate(-90)" y="12.0">29_12</text>
<text transform="translate(243.22 946.0) rotate(-90)" y="12.0">29_15</text>
<text transform="translate(261.15 946.0) rotate(-90)" y="12.0">29_18</text>
<text transform="translate(279.07 946.0) rotate(-90)" y="12.0">29_21</text>
<text transform="translate(297.00 946.0) rotate(-90)" y="12.0">30_00</text>
<text transform="translate(314.93 946.0) rotate(-90)" y="12.0">30_03</text>
<text transform="translate(332.85 946.0) rotate(-90)" y="12.0">30_06</text>
<text transform="translate(350.77 946.0) rotate(-90)" y="12.0">30_09</text>
<text transform="translate(368.70 946.0) rotate(-90)" y="12.0">30_12</text>
<text transform="translate(386.62 946.0) rotate(-90)" y="12.0">30_15</text>
<text transform="translate(404.55 946.0) rotate(-90)" y="12.0">30_18</text>
<text transform="translate(422.48 946.0) rotate(-90)" y="12.0">30_21</text>
<text transform="translate(440.40 946.0) rotate(-90)" y="12.0">31_00</text>
<text transform="translate(458.33 946.0) rotate(-90)" y="12.0">31_03</text>
<text transform="translate(476.25 946.0) rotate(-90)" y="12.0">31_06</text>
<text transform="translate(494.17 946.0) rotate(-90)" y="12.0">31_09</text>
<text transform="translate(512.10 946.0) rotate(-90)" y="12.0">31_12</text>
<text transform="translate(530.02 946.0) rotate(-90)" y="12.0">31_15</text>
<text transform="translate(547.95 946.0) rotate(-90)" y="12.0">31_18</text>
<text transform="translate(565.88 946.0) rotate(-90)" y="12.0">31_21</text>
<text transform="translate(583.80 946.0) rotate(-90)" y="12.0">01_00</text>
<text transform="translate(601.73 946.0) rotate(-90)" y="12.0">01_03</text>
<text transform="translate(619.65 946.0) rotate(-90)" y="12.0">01_06</text>
<text transform="translate(637.58 946.0) rotate(-90)" y="12.0">01_09</text>
<text transform="translate(655.50 946.0) rotate(-90)" y="12.0">01_12</text>
<text transform="translate(673.43 946.0) rotate(-90)" y="12.0">01_15</text>
<text transform="translate(691.35 946.0) rotate(-90)" y="12.0">01_18</text>
<text transform="translate(709.28 946.0) rotate(-90)" y="12.0">01_21</text>
<text transform="translate(727.20 946.0) rotate(-90)" y="12.0">02_00</text>
<text transform="translate(745.12 946.0) rotate(-90)" y="12.0">02_03</text>
<text transform="translate(763.05 946.0) rotate(-90)" y="12.0">02_06</text>
<text transform="translate(780.98 946.0) rotate(-90)" y="12.0">02_09</text>
<text transform="translate(798.90 946.0) rotate(-90)" y="12.0">02_12</text>
<text transform="translate(816.83 946.0) rotate(-90)" y="12.0">02_15</text>
<text transform="translate(834.75 946.0) rotate(-90)" y="12.0">02_18</text>
<text transform="translate(852.68 946.0) rotate(-90)" y="12.0">02_21</text>
<text transform="translate(870.60 946.0) rotate(-90)" y="12.0">03_00</text>
</g>
<text transform="translate(92.5 890.2) rotate(-90)" font-size="23.9" text-anchor="middle">Temp at 2m</text>
</svg></body></html>
